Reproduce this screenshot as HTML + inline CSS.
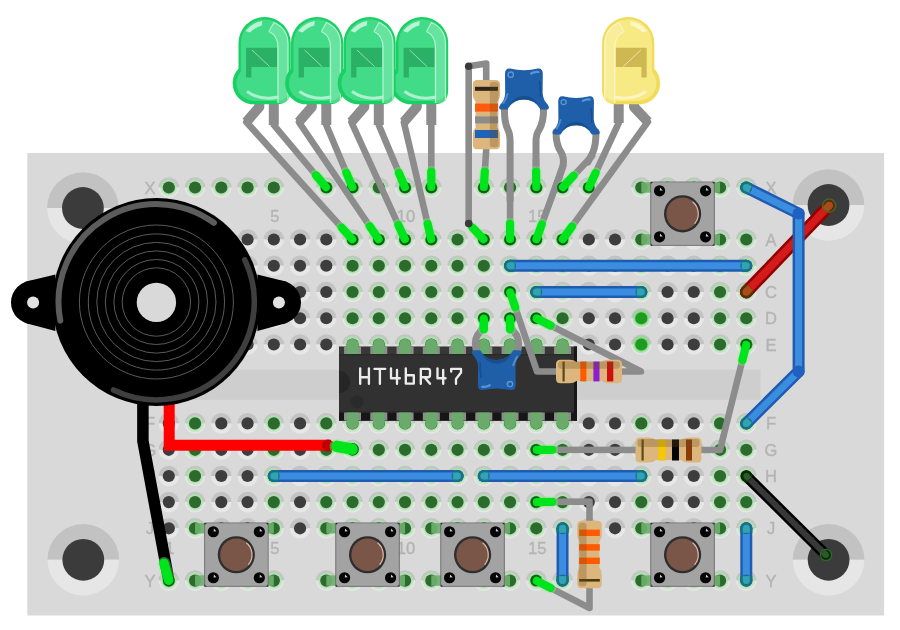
<!DOCTYPE html><html><head><meta charset="utf-8"><style>html,body{margin:0;padding:0;background:#fff;width:900px;height:630px;overflow:hidden}svg{display:block;will-change:transform}</style></head><body>
<svg width="900" height="630" viewBox="0 0 900 630">
<rect width="900" height="630" fill="#ffffff"/>
<rect x="27.3" y="153" width="856.8" height="462.5" fill="#d9d9d9"/>
<rect x="150" y="369.8" width="610.5" height="30" fill="#cecece"/>
<path d="M47.10,208.00A35.8,35.8 0 0 1 118.70,208.00Z" fill="#c2c2c2"/>
<path d="M47.10,208.00A35.8,35.8 0 0 0 118.70,208.00Z" fill="#e6e6e6"/>
<circle cx="82.90" cy="208.00" r="20.9" fill="#3b3b3b"/>
<path d="M792.70,205.00A35.8,35.8 0 0 1 864.30,205.00Z" fill="#c2c2c2"/>
<path d="M792.70,205.00A35.8,35.8 0 0 0 864.30,205.00Z" fill="#e6e6e6"/>
<circle cx="828.50" cy="205.00" r="20.9" fill="#3b3b3b"/>
<path d="M47.50,559.80A35.8,35.8 0 0 1 119.10,559.80Z" fill="#c2c2c2"/>
<path d="M47.50,559.80A35.8,35.8 0 0 0 119.10,559.80Z" fill="#e6e6e6"/>
<circle cx="83.30" cy="559.80" r="20.9" fill="#3b3b3b"/>
<path d="M792.80,559.80A35.8,35.8 0 0 1 864.40,559.80Z" fill="#c2c2c2"/>
<path d="M792.80,559.80A35.8,35.8 0 0 0 864.40,559.80Z" fill="#e6e6e6"/>
<circle cx="828.60" cy="559.80" r="20.9" fill="#3b3b3b"/>
<path d="M158.50,239.50A10.3,10.3 0 0 1 179.10,239.50Z" fill="#c3c3c3"/>
<path d="M158.50,239.50A10.3,10.3 0 0 0 179.10,239.50Z" fill="#e7e7e7"/>
<circle cx="168.80" cy="239.50" r="6.1" fill="#3d3d3d"/>
<path d="M184.75,239.50A10.3,10.3 0 0 1 205.35,239.50Z" fill="#c3c3c3"/>
<path d="M184.75,239.50A10.3,10.3 0 0 0 205.35,239.50Z" fill="#e7e7e7"/>
<circle cx="195.05" cy="239.50" r="6.1" fill="#3d3d3d"/>
<path d="M211.00,239.50A10.3,10.3 0 0 1 231.60,239.50Z" fill="#c3c3c3"/>
<path d="M211.00,239.50A10.3,10.3 0 0 0 231.60,239.50Z" fill="#e7e7e7"/>
<circle cx="221.30" cy="239.50" r="6.1" fill="#3d3d3d"/>
<path d="M237.25,239.50A10.3,10.3 0 0 1 257.85,239.50Z" fill="#c3c3c3"/>
<path d="M237.25,239.50A10.3,10.3 0 0 0 257.85,239.50Z" fill="#e7e7e7"/>
<circle cx="247.55" cy="239.50" r="6.1" fill="#3d3d3d"/>
<path d="M263.50,239.50A10.3,10.3 0 0 1 284.10,239.50Z" fill="#c3c3c3"/>
<path d="M263.50,239.50A10.3,10.3 0 0 0 284.10,239.50Z" fill="#e7e7e7"/>
<circle cx="273.80" cy="239.50" r="6.1" fill="#3d3d3d"/>
<path d="M289.75,239.50A10.3,10.3 0 0 1 310.35,239.50Z" fill="#c3c3c3"/>
<path d="M289.75,239.50A10.3,10.3 0 0 0 310.35,239.50Z" fill="#e7e7e7"/>
<circle cx="300.05" cy="239.50" r="6.1" fill="#3d3d3d"/>
<path d="M316.00,239.50A10.3,10.3 0 0 1 336.60,239.50Z" fill="#c3c3c3"/>
<path d="M316.00,239.50A10.3,10.3 0 0 0 336.60,239.50Z" fill="#e7e7e7"/>
<circle cx="326.30" cy="239.50" r="6.1" fill="#3d3d3d"/>
<path d="M342.25,239.50A10.3,10.3 0 0 1 362.85,239.50Z" fill="#c3c3c3"/>
<path d="M342.25,239.50A10.3,10.3 0 0 0 362.85,239.50Z" fill="#e7e7e7"/>
<circle cx="352.55" cy="239.50" r="8.9" fill="#b0e2b0" opacity="0.45"/>
<circle cx="352.55" cy="239.50" r="7.3" fill="#b0e2b0"/>
<circle cx="352.55" cy="239.50" r="6.1" fill="#2d6a2d"/>
<path d="M368.50,239.50A10.3,10.3 0 0 1 389.10,239.50Z" fill="#c3c3c3"/>
<path d="M368.50,239.50A10.3,10.3 0 0 0 389.10,239.50Z" fill="#e7e7e7"/>
<circle cx="378.80" cy="239.50" r="8.9" fill="#b0e2b0" opacity="0.45"/>
<circle cx="378.80" cy="239.50" r="7.3" fill="#b0e2b0"/>
<circle cx="378.80" cy="239.50" r="6.1" fill="#2d6a2d"/>
<path d="M394.75,239.50A10.3,10.3 0 0 1 415.35,239.50Z" fill="#c3c3c3"/>
<path d="M394.75,239.50A10.3,10.3 0 0 0 415.35,239.50Z" fill="#e7e7e7"/>
<circle cx="405.05" cy="239.50" r="8.9" fill="#b0e2b0" opacity="0.45"/>
<circle cx="405.05" cy="239.50" r="7.3" fill="#b0e2b0"/>
<circle cx="405.05" cy="239.50" r="6.1" fill="#2d6a2d"/>
<path d="M421.00,239.50A10.3,10.3 0 0 1 441.60,239.50Z" fill="#c3c3c3"/>
<path d="M421.00,239.50A10.3,10.3 0 0 0 441.60,239.50Z" fill="#e7e7e7"/>
<circle cx="431.30" cy="239.50" r="8.9" fill="#b0e2b0" opacity="0.45"/>
<circle cx="431.30" cy="239.50" r="7.3" fill="#b0e2b0"/>
<circle cx="431.30" cy="239.50" r="6.1" fill="#2d6a2d"/>
<path d="M447.25,239.50A10.3,10.3 0 0 1 467.85,239.50Z" fill="#c3c3c3"/>
<path d="M447.25,239.50A10.3,10.3 0 0 0 467.85,239.50Z" fill="#e7e7e7"/>
<circle cx="457.55" cy="239.50" r="8.9" fill="#b0e2b0" opacity="0.45"/>
<circle cx="457.55" cy="239.50" r="7.3" fill="#b0e2b0"/>
<circle cx="457.55" cy="239.50" r="6.1" fill="#2d6a2d"/>
<path d="M473.50,239.50A10.3,10.3 0 0 1 494.10,239.50Z" fill="#c3c3c3"/>
<path d="M473.50,239.50A10.3,10.3 0 0 0 494.10,239.50Z" fill="#e7e7e7"/>
<circle cx="483.80" cy="239.50" r="8.9" fill="#b0e2b0" opacity="0.45"/>
<circle cx="483.80" cy="239.50" r="7.3" fill="#b0e2b0"/>
<circle cx="483.80" cy="239.50" r="6.1" fill="#2d6a2d"/>
<path d="M499.75,239.50A10.3,10.3 0 0 1 520.35,239.50Z" fill="#c3c3c3"/>
<path d="M499.75,239.50A10.3,10.3 0 0 0 520.35,239.50Z" fill="#e7e7e7"/>
<circle cx="510.05" cy="239.50" r="8.9" fill="#b0e2b0" opacity="0.45"/>
<circle cx="510.05" cy="239.50" r="7.3" fill="#b0e2b0"/>
<circle cx="510.05" cy="239.50" r="6.1" fill="#2d6a2d"/>
<path d="M526.00,239.50A10.3,10.3 0 0 1 546.60,239.50Z" fill="#c3c3c3"/>
<path d="M526.00,239.50A10.3,10.3 0 0 0 546.60,239.50Z" fill="#e7e7e7"/>
<circle cx="536.30" cy="239.50" r="8.9" fill="#b0e2b0" opacity="0.45"/>
<circle cx="536.30" cy="239.50" r="7.3" fill="#b0e2b0"/>
<circle cx="536.30" cy="239.50" r="6.1" fill="#2d6a2d"/>
<path d="M552.25,239.50A10.3,10.3 0 0 1 572.85,239.50Z" fill="#c3c3c3"/>
<path d="M552.25,239.50A10.3,10.3 0 0 0 572.85,239.50Z" fill="#e7e7e7"/>
<circle cx="562.55" cy="239.50" r="8.9" fill="#b0e2b0" opacity="0.45"/>
<circle cx="562.55" cy="239.50" r="7.3" fill="#b0e2b0"/>
<circle cx="562.55" cy="239.50" r="6.1" fill="#2d6a2d"/>
<path d="M578.50,239.50A10.3,10.3 0 0 1 599.10,239.50Z" fill="#c3c3c3"/>
<path d="M578.50,239.50A10.3,10.3 0 0 0 599.10,239.50Z" fill="#e7e7e7"/>
<circle cx="588.80" cy="239.50" r="6.1" fill="#3d3d3d"/>
<path d="M604.75,239.50A10.3,10.3 0 0 1 625.35,239.50Z" fill="#c3c3c3"/>
<path d="M604.75,239.50A10.3,10.3 0 0 0 625.35,239.50Z" fill="#e7e7e7"/>
<circle cx="615.05" cy="239.50" r="6.1" fill="#3d3d3d"/>
<path d="M631.00,239.50A10.3,10.3 0 0 1 651.60,239.50Z" fill="#c3c3c3"/>
<path d="M631.00,239.50A10.3,10.3 0 0 0 651.60,239.50Z" fill="#e7e7e7"/>
<circle cx="641.30" cy="239.50" r="8.9" fill="#b0e2b0" opacity="0.45"/>
<circle cx="641.30" cy="239.50" r="7.3" fill="#b0e2b0"/>
<circle cx="641.30" cy="239.50" r="6.1" fill="#2d6a2d"/>
<path d="M657.25,239.50A10.3,10.3 0 0 1 677.85,239.50Z" fill="#c3c3c3"/>
<path d="M657.25,239.50A10.3,10.3 0 0 0 677.85,239.50Z" fill="#e7e7e7"/>
<circle cx="667.55" cy="239.50" r="6.1" fill="#3d3d3d"/>
<path d="M683.50,239.50A10.3,10.3 0 0 1 704.10,239.50Z" fill="#c3c3c3"/>
<path d="M683.50,239.50A10.3,10.3 0 0 0 704.10,239.50Z" fill="#e7e7e7"/>
<circle cx="693.80" cy="239.50" r="6.1" fill="#3d3d3d"/>
<path d="M709.75,239.50A10.3,10.3 0 0 1 730.35,239.50Z" fill="#c3c3c3"/>
<path d="M709.75,239.50A10.3,10.3 0 0 0 730.35,239.50Z" fill="#e7e7e7"/>
<circle cx="720.05" cy="239.50" r="8.9" fill="#b0e2b0" opacity="0.45"/>
<circle cx="720.05" cy="239.50" r="7.3" fill="#b0e2b0"/>
<circle cx="720.05" cy="239.50" r="6.1" fill="#2d6a2d"/>
<path d="M736.00,239.50A10.3,10.3 0 0 1 756.60,239.50Z" fill="#c3c3c3"/>
<path d="M736.00,239.50A10.3,10.3 0 0 0 756.60,239.50Z" fill="#e7e7e7"/>
<circle cx="746.30" cy="239.50" r="8.9" fill="#b0e2b0" opacity="0.45"/>
<circle cx="746.30" cy="239.50" r="7.3" fill="#b0e2b0"/>
<circle cx="746.30" cy="239.50" r="6.1" fill="#2d6a2d"/>
<path d="M158.50,265.75A10.3,10.3 0 0 1 179.10,265.75Z" fill="#c3c3c3"/>
<path d="M158.50,265.75A10.3,10.3 0 0 0 179.10,265.75Z" fill="#e7e7e7"/>
<circle cx="168.80" cy="265.75" r="6.1" fill="#3d3d3d"/>
<path d="M184.75,265.75A10.3,10.3 0 0 1 205.35,265.75Z" fill="#c3c3c3"/>
<path d="M184.75,265.75A10.3,10.3 0 0 0 205.35,265.75Z" fill="#e7e7e7"/>
<circle cx="195.05" cy="265.75" r="6.1" fill="#3d3d3d"/>
<path d="M211.00,265.75A10.3,10.3 0 0 1 231.60,265.75Z" fill="#c3c3c3"/>
<path d="M211.00,265.75A10.3,10.3 0 0 0 231.60,265.75Z" fill="#e7e7e7"/>
<circle cx="221.30" cy="265.75" r="6.1" fill="#3d3d3d"/>
<path d="M237.25,265.75A10.3,10.3 0 0 1 257.85,265.75Z" fill="#c3c3c3"/>
<path d="M237.25,265.75A10.3,10.3 0 0 0 257.85,265.75Z" fill="#e7e7e7"/>
<circle cx="247.55" cy="265.75" r="6.1" fill="#3d3d3d"/>
<path d="M263.50,265.75A10.3,10.3 0 0 1 284.10,265.75Z" fill="#c3c3c3"/>
<path d="M263.50,265.75A10.3,10.3 0 0 0 284.10,265.75Z" fill="#e7e7e7"/>
<circle cx="273.80" cy="265.75" r="6.1" fill="#3d3d3d"/>
<path d="M289.75,265.75A10.3,10.3 0 0 1 310.35,265.75Z" fill="#c3c3c3"/>
<path d="M289.75,265.75A10.3,10.3 0 0 0 310.35,265.75Z" fill="#e7e7e7"/>
<circle cx="300.05" cy="265.75" r="6.1" fill="#3d3d3d"/>
<path d="M316.00,265.75A10.3,10.3 0 0 1 336.60,265.75Z" fill="#c3c3c3"/>
<path d="M316.00,265.75A10.3,10.3 0 0 0 336.60,265.75Z" fill="#e7e7e7"/>
<circle cx="326.30" cy="265.75" r="6.1" fill="#3d3d3d"/>
<path d="M342.25,265.75A10.3,10.3 0 0 1 362.85,265.75Z" fill="#c3c3c3"/>
<path d="M342.25,265.75A10.3,10.3 0 0 0 362.85,265.75Z" fill="#e7e7e7"/>
<circle cx="352.55" cy="265.75" r="8.9" fill="#b0e2b0" opacity="0.45"/>
<circle cx="352.55" cy="265.75" r="7.3" fill="#b0e2b0"/>
<circle cx="352.55" cy="265.75" r="6.1" fill="#2d6a2d"/>
<path d="M368.50,265.75A10.3,10.3 0 0 1 389.10,265.75Z" fill="#c3c3c3"/>
<path d="M368.50,265.75A10.3,10.3 0 0 0 389.10,265.75Z" fill="#e7e7e7"/>
<circle cx="378.80" cy="265.75" r="8.9" fill="#b0e2b0" opacity="0.45"/>
<circle cx="378.80" cy="265.75" r="7.3" fill="#b0e2b0"/>
<circle cx="378.80" cy="265.75" r="6.1" fill="#2d6a2d"/>
<path d="M394.75,265.75A10.3,10.3 0 0 1 415.35,265.75Z" fill="#c3c3c3"/>
<path d="M394.75,265.75A10.3,10.3 0 0 0 415.35,265.75Z" fill="#e7e7e7"/>
<circle cx="405.05" cy="265.75" r="8.9" fill="#b0e2b0" opacity="0.45"/>
<circle cx="405.05" cy="265.75" r="7.3" fill="#b0e2b0"/>
<circle cx="405.05" cy="265.75" r="6.1" fill="#2d6a2d"/>
<path d="M421.00,265.75A10.3,10.3 0 0 1 441.60,265.75Z" fill="#c3c3c3"/>
<path d="M421.00,265.75A10.3,10.3 0 0 0 441.60,265.75Z" fill="#e7e7e7"/>
<circle cx="431.30" cy="265.75" r="8.9" fill="#b0e2b0" opacity="0.45"/>
<circle cx="431.30" cy="265.75" r="7.3" fill="#b0e2b0"/>
<circle cx="431.30" cy="265.75" r="6.1" fill="#2d6a2d"/>
<path d="M447.25,265.75A10.3,10.3 0 0 1 467.85,265.75Z" fill="#c3c3c3"/>
<path d="M447.25,265.75A10.3,10.3 0 0 0 467.85,265.75Z" fill="#e7e7e7"/>
<circle cx="457.55" cy="265.75" r="8.9" fill="#b0e2b0" opacity="0.45"/>
<circle cx="457.55" cy="265.75" r="7.3" fill="#b0e2b0"/>
<circle cx="457.55" cy="265.75" r="6.1" fill="#2d6a2d"/>
<path d="M473.50,265.75A10.3,10.3 0 0 1 494.10,265.75Z" fill="#c3c3c3"/>
<path d="M473.50,265.75A10.3,10.3 0 0 0 494.10,265.75Z" fill="#e7e7e7"/>
<circle cx="483.80" cy="265.75" r="8.9" fill="#b0e2b0" opacity="0.45"/>
<circle cx="483.80" cy="265.75" r="7.3" fill="#b0e2b0"/>
<circle cx="483.80" cy="265.75" r="6.1" fill="#2d6a2d"/>
<path d="M499.75,265.75A10.3,10.3 0 0 1 520.35,265.75Z" fill="#c3c3c3"/>
<path d="M499.75,265.75A10.3,10.3 0 0 0 520.35,265.75Z" fill="#e7e7e7"/>
<circle cx="510.05" cy="265.75" r="8.9" fill="#b0e2b0" opacity="0.45"/>
<circle cx="510.05" cy="265.75" r="7.3" fill="#b0e2b0"/>
<circle cx="510.05" cy="265.75" r="6.1" fill="#2d6a2d"/>
<path d="M526.00,265.75A10.3,10.3 0 0 1 546.60,265.75Z" fill="#c3c3c3"/>
<path d="M526.00,265.75A10.3,10.3 0 0 0 546.60,265.75Z" fill="#e7e7e7"/>
<circle cx="536.30" cy="265.75" r="8.9" fill="#b0e2b0" opacity="0.45"/>
<circle cx="536.30" cy="265.75" r="7.3" fill="#b0e2b0"/>
<circle cx="536.30" cy="265.75" r="6.1" fill="#2d6a2d"/>
<path d="M552.25,265.75A10.3,10.3 0 0 1 572.85,265.75Z" fill="#c3c3c3"/>
<path d="M552.25,265.75A10.3,10.3 0 0 0 572.85,265.75Z" fill="#e7e7e7"/>
<circle cx="562.55" cy="265.75" r="8.9" fill="#b0e2b0" opacity="0.45"/>
<circle cx="562.55" cy="265.75" r="7.3" fill="#b0e2b0"/>
<circle cx="562.55" cy="265.75" r="6.1" fill="#2d6a2d"/>
<path d="M578.50,265.75A10.3,10.3 0 0 1 599.10,265.75Z" fill="#c3c3c3"/>
<path d="M578.50,265.75A10.3,10.3 0 0 0 599.10,265.75Z" fill="#e7e7e7"/>
<circle cx="588.80" cy="265.75" r="6.1" fill="#3d3d3d"/>
<path d="M604.75,265.75A10.3,10.3 0 0 1 625.35,265.75Z" fill="#c3c3c3"/>
<path d="M604.75,265.75A10.3,10.3 0 0 0 625.35,265.75Z" fill="#e7e7e7"/>
<circle cx="615.05" cy="265.75" r="6.1" fill="#3d3d3d"/>
<path d="M631.00,265.75A10.3,10.3 0 0 1 651.60,265.75Z" fill="#c3c3c3"/>
<path d="M631.00,265.75A10.3,10.3 0 0 0 651.60,265.75Z" fill="#e7e7e7"/>
<circle cx="641.30" cy="265.75" r="8.9" fill="#b0e2b0" opacity="0.45"/>
<circle cx="641.30" cy="265.75" r="7.3" fill="#b0e2b0"/>
<circle cx="641.30" cy="265.75" r="6.1" fill="#2d6a2d"/>
<path d="M657.25,265.75A10.3,10.3 0 0 1 677.85,265.75Z" fill="#c3c3c3"/>
<path d="M657.25,265.75A10.3,10.3 0 0 0 677.85,265.75Z" fill="#e7e7e7"/>
<circle cx="667.55" cy="265.75" r="6.1" fill="#3d3d3d"/>
<path d="M683.50,265.75A10.3,10.3 0 0 1 704.10,265.75Z" fill="#c3c3c3"/>
<path d="M683.50,265.75A10.3,10.3 0 0 0 704.10,265.75Z" fill="#e7e7e7"/>
<circle cx="693.80" cy="265.75" r="6.1" fill="#3d3d3d"/>
<path d="M709.75,265.75A10.3,10.3 0 0 1 730.35,265.75Z" fill="#c3c3c3"/>
<path d="M709.75,265.75A10.3,10.3 0 0 0 730.35,265.75Z" fill="#e7e7e7"/>
<circle cx="720.05" cy="265.75" r="8.9" fill="#b0e2b0" opacity="0.45"/>
<circle cx="720.05" cy="265.75" r="7.3" fill="#b0e2b0"/>
<circle cx="720.05" cy="265.75" r="6.1" fill="#2d6a2d"/>
<path d="M736.00,265.75A10.3,10.3 0 0 1 756.60,265.75Z" fill="#c3c3c3"/>
<path d="M736.00,265.75A10.3,10.3 0 0 0 756.60,265.75Z" fill="#e7e7e7"/>
<circle cx="746.30" cy="265.75" r="8.9" fill="#b0e2b0" opacity="0.45"/>
<circle cx="746.30" cy="265.75" r="7.3" fill="#b0e2b0"/>
<circle cx="746.30" cy="265.75" r="6.1" fill="#2d6a2d"/>
<path d="M158.50,292.00A10.3,10.3 0 0 1 179.10,292.00Z" fill="#c3c3c3"/>
<path d="M158.50,292.00A10.3,10.3 0 0 0 179.10,292.00Z" fill="#e7e7e7"/>
<circle cx="168.80" cy="292.00" r="6.1" fill="#3d3d3d"/>
<path d="M184.75,292.00A10.3,10.3 0 0 1 205.35,292.00Z" fill="#c3c3c3"/>
<path d="M184.75,292.00A10.3,10.3 0 0 0 205.35,292.00Z" fill="#e7e7e7"/>
<circle cx="195.05" cy="292.00" r="6.1" fill="#3d3d3d"/>
<path d="M211.00,292.00A10.3,10.3 0 0 1 231.60,292.00Z" fill="#c3c3c3"/>
<path d="M211.00,292.00A10.3,10.3 0 0 0 231.60,292.00Z" fill="#e7e7e7"/>
<circle cx="221.30" cy="292.00" r="6.1" fill="#3d3d3d"/>
<path d="M237.25,292.00A10.3,10.3 0 0 1 257.85,292.00Z" fill="#c3c3c3"/>
<path d="M237.25,292.00A10.3,10.3 0 0 0 257.85,292.00Z" fill="#e7e7e7"/>
<circle cx="247.55" cy="292.00" r="6.1" fill="#3d3d3d"/>
<path d="M263.50,292.00A10.3,10.3 0 0 1 284.10,292.00Z" fill="#c3c3c3"/>
<path d="M263.50,292.00A10.3,10.3 0 0 0 284.10,292.00Z" fill="#e7e7e7"/>
<circle cx="273.80" cy="292.00" r="6.1" fill="#3d3d3d"/>
<path d="M289.75,292.00A10.3,10.3 0 0 1 310.35,292.00Z" fill="#c3c3c3"/>
<path d="M289.75,292.00A10.3,10.3 0 0 0 310.35,292.00Z" fill="#e7e7e7"/>
<circle cx="300.05" cy="292.00" r="6.1" fill="#3d3d3d"/>
<path d="M316.00,292.00A10.3,10.3 0 0 1 336.60,292.00Z" fill="#c3c3c3"/>
<path d="M316.00,292.00A10.3,10.3 0 0 0 336.60,292.00Z" fill="#e7e7e7"/>
<circle cx="326.30" cy="292.00" r="6.1" fill="#3d3d3d"/>
<path d="M342.25,292.00A10.3,10.3 0 0 1 362.85,292.00Z" fill="#c3c3c3"/>
<path d="M342.25,292.00A10.3,10.3 0 0 0 362.85,292.00Z" fill="#e7e7e7"/>
<circle cx="352.55" cy="292.00" r="8.9" fill="#b0e2b0" opacity="0.45"/>
<circle cx="352.55" cy="292.00" r="7.3" fill="#b0e2b0"/>
<circle cx="352.55" cy="292.00" r="6.1" fill="#2d6a2d"/>
<path d="M368.50,292.00A10.3,10.3 0 0 1 389.10,292.00Z" fill="#c3c3c3"/>
<path d="M368.50,292.00A10.3,10.3 0 0 0 389.10,292.00Z" fill="#e7e7e7"/>
<circle cx="378.80" cy="292.00" r="8.9" fill="#b0e2b0" opacity="0.45"/>
<circle cx="378.80" cy="292.00" r="7.3" fill="#b0e2b0"/>
<circle cx="378.80" cy="292.00" r="6.1" fill="#2d6a2d"/>
<path d="M394.75,292.00A10.3,10.3 0 0 1 415.35,292.00Z" fill="#c3c3c3"/>
<path d="M394.75,292.00A10.3,10.3 0 0 0 415.35,292.00Z" fill="#e7e7e7"/>
<circle cx="405.05" cy="292.00" r="8.9" fill="#b0e2b0" opacity="0.45"/>
<circle cx="405.05" cy="292.00" r="7.3" fill="#b0e2b0"/>
<circle cx="405.05" cy="292.00" r="6.1" fill="#2d6a2d"/>
<path d="M421.00,292.00A10.3,10.3 0 0 1 441.60,292.00Z" fill="#c3c3c3"/>
<path d="M421.00,292.00A10.3,10.3 0 0 0 441.60,292.00Z" fill="#e7e7e7"/>
<circle cx="431.30" cy="292.00" r="8.9" fill="#b0e2b0" opacity="0.45"/>
<circle cx="431.30" cy="292.00" r="7.3" fill="#b0e2b0"/>
<circle cx="431.30" cy="292.00" r="6.1" fill="#2d6a2d"/>
<path d="M447.25,292.00A10.3,10.3 0 0 1 467.85,292.00Z" fill="#c3c3c3"/>
<path d="M447.25,292.00A10.3,10.3 0 0 0 467.85,292.00Z" fill="#e7e7e7"/>
<circle cx="457.55" cy="292.00" r="8.9" fill="#b0e2b0" opacity="0.45"/>
<circle cx="457.55" cy="292.00" r="7.3" fill="#b0e2b0"/>
<circle cx="457.55" cy="292.00" r="6.1" fill="#2d6a2d"/>
<path d="M473.50,292.00A10.3,10.3 0 0 1 494.10,292.00Z" fill="#c3c3c3"/>
<path d="M473.50,292.00A10.3,10.3 0 0 0 494.10,292.00Z" fill="#e7e7e7"/>
<circle cx="483.80" cy="292.00" r="8.9" fill="#b0e2b0" opacity="0.45"/>
<circle cx="483.80" cy="292.00" r="7.3" fill="#b0e2b0"/>
<circle cx="483.80" cy="292.00" r="6.1" fill="#2d6a2d"/>
<path d="M499.75,292.00A10.3,10.3 0 0 1 520.35,292.00Z" fill="#c3c3c3"/>
<path d="M499.75,292.00A10.3,10.3 0 0 0 520.35,292.00Z" fill="#e7e7e7"/>
<circle cx="510.05" cy="292.00" r="8.9" fill="#b0e2b0" opacity="0.45"/>
<circle cx="510.05" cy="292.00" r="7.3" fill="#b0e2b0"/>
<circle cx="510.05" cy="292.00" r="6.1" fill="#2d6a2d"/>
<path d="M526.00,292.00A10.3,10.3 0 0 1 546.60,292.00Z" fill="#c3c3c3"/>
<path d="M526.00,292.00A10.3,10.3 0 0 0 546.60,292.00Z" fill="#e7e7e7"/>
<circle cx="536.30" cy="292.00" r="8.9" fill="#b0e2b0" opacity="0.45"/>
<circle cx="536.30" cy="292.00" r="7.3" fill="#b0e2b0"/>
<circle cx="536.30" cy="292.00" r="6.1" fill="#2d6a2d"/>
<path d="M552.25,292.00A10.3,10.3 0 0 1 572.85,292.00Z" fill="#c3c3c3"/>
<path d="M552.25,292.00A10.3,10.3 0 0 0 572.85,292.00Z" fill="#e7e7e7"/>
<circle cx="562.55" cy="292.00" r="8.9" fill="#b0e2b0" opacity="0.45"/>
<circle cx="562.55" cy="292.00" r="7.3" fill="#b0e2b0"/>
<circle cx="562.55" cy="292.00" r="6.1" fill="#2d6a2d"/>
<path d="M578.50,292.00A10.3,10.3 0 0 1 599.10,292.00Z" fill="#c3c3c3"/>
<path d="M578.50,292.00A10.3,10.3 0 0 0 599.10,292.00Z" fill="#e7e7e7"/>
<circle cx="588.80" cy="292.00" r="6.1" fill="#3d3d3d"/>
<path d="M604.75,292.00A10.3,10.3 0 0 1 625.35,292.00Z" fill="#c3c3c3"/>
<path d="M604.75,292.00A10.3,10.3 0 0 0 625.35,292.00Z" fill="#e7e7e7"/>
<circle cx="615.05" cy="292.00" r="6.1" fill="#3d3d3d"/>
<path d="M631.00,292.00A10.3,10.3 0 0 1 651.60,292.00Z" fill="#c3c3c3"/>
<path d="M631.00,292.00A10.3,10.3 0 0 0 651.60,292.00Z" fill="#e7e7e7"/>
<circle cx="641.30" cy="292.00" r="8.9" fill="#b0e2b0" opacity="0.45"/>
<circle cx="641.30" cy="292.00" r="7.3" fill="#b0e2b0"/>
<circle cx="641.30" cy="292.00" r="6.1" fill="#2d6a2d"/>
<path d="M657.25,292.00A10.3,10.3 0 0 1 677.85,292.00Z" fill="#c3c3c3"/>
<path d="M657.25,292.00A10.3,10.3 0 0 0 677.85,292.00Z" fill="#e7e7e7"/>
<circle cx="667.55" cy="292.00" r="6.1" fill="#3d3d3d"/>
<path d="M683.50,292.00A10.3,10.3 0 0 1 704.10,292.00Z" fill="#c3c3c3"/>
<path d="M683.50,292.00A10.3,10.3 0 0 0 704.10,292.00Z" fill="#e7e7e7"/>
<circle cx="693.80" cy="292.00" r="6.1" fill="#3d3d3d"/>
<path d="M709.75,292.00A10.3,10.3 0 0 1 730.35,292.00Z" fill="#c3c3c3"/>
<path d="M709.75,292.00A10.3,10.3 0 0 0 730.35,292.00Z" fill="#e7e7e7"/>
<circle cx="720.05" cy="292.00" r="8.9" fill="#b0e2b0" opacity="0.45"/>
<circle cx="720.05" cy="292.00" r="7.3" fill="#b0e2b0"/>
<circle cx="720.05" cy="292.00" r="6.1" fill="#2d6a2d"/>
<path d="M736.00,292.00A10.3,10.3 0 0 1 756.60,292.00Z" fill="#c3c3c3"/>
<path d="M736.00,292.00A10.3,10.3 0 0 0 756.60,292.00Z" fill="#e7e7e7"/>
<circle cx="746.30" cy="292.00" r="8.9" fill="#b0e2b0" opacity="0.45"/>
<circle cx="746.30" cy="292.00" r="7.3" fill="#b0e2b0"/>
<circle cx="746.30" cy="292.00" r="6.1" fill="#2d6a2d"/>
<path d="M158.50,318.25A10.3,10.3 0 0 1 179.10,318.25Z" fill="#c3c3c3"/>
<path d="M158.50,318.25A10.3,10.3 0 0 0 179.10,318.25Z" fill="#e7e7e7"/>
<circle cx="168.80" cy="318.25" r="6.1" fill="#3d3d3d"/>
<path d="M184.75,318.25A10.3,10.3 0 0 1 205.35,318.25Z" fill="#c3c3c3"/>
<path d="M184.75,318.25A10.3,10.3 0 0 0 205.35,318.25Z" fill="#e7e7e7"/>
<circle cx="195.05" cy="318.25" r="6.1" fill="#3d3d3d"/>
<path d="M211.00,318.25A10.3,10.3 0 0 1 231.60,318.25Z" fill="#c3c3c3"/>
<path d="M211.00,318.25A10.3,10.3 0 0 0 231.60,318.25Z" fill="#e7e7e7"/>
<circle cx="221.30" cy="318.25" r="6.1" fill="#3d3d3d"/>
<path d="M237.25,318.25A10.3,10.3 0 0 1 257.85,318.25Z" fill="#c3c3c3"/>
<path d="M237.25,318.25A10.3,10.3 0 0 0 257.85,318.25Z" fill="#e7e7e7"/>
<circle cx="247.55" cy="318.25" r="6.1" fill="#3d3d3d"/>
<path d="M263.50,318.25A10.3,10.3 0 0 1 284.10,318.25Z" fill="#c3c3c3"/>
<path d="M263.50,318.25A10.3,10.3 0 0 0 284.10,318.25Z" fill="#e7e7e7"/>
<circle cx="273.80" cy="318.25" r="6.1" fill="#3d3d3d"/>
<path d="M289.75,318.25A10.3,10.3 0 0 1 310.35,318.25Z" fill="#c3c3c3"/>
<path d="M289.75,318.25A10.3,10.3 0 0 0 310.35,318.25Z" fill="#e7e7e7"/>
<circle cx="300.05" cy="318.25" r="6.1" fill="#3d3d3d"/>
<path d="M316.00,318.25A10.3,10.3 0 0 1 336.60,318.25Z" fill="#c3c3c3"/>
<path d="M316.00,318.25A10.3,10.3 0 0 0 336.60,318.25Z" fill="#e7e7e7"/>
<circle cx="326.30" cy="318.25" r="6.1" fill="#3d3d3d"/>
<path d="M342.25,318.25A10.3,10.3 0 0 1 362.85,318.25Z" fill="#c3c3c3"/>
<path d="M342.25,318.25A10.3,10.3 0 0 0 362.85,318.25Z" fill="#e7e7e7"/>
<circle cx="352.55" cy="318.25" r="8.9" fill="#b0e2b0" opacity="0.45"/>
<circle cx="352.55" cy="318.25" r="7.3" fill="#b0e2b0"/>
<circle cx="352.55" cy="318.25" r="6.1" fill="#2d6a2d"/>
<path d="M368.50,318.25A10.3,10.3 0 0 1 389.10,318.25Z" fill="#c3c3c3"/>
<path d="M368.50,318.25A10.3,10.3 0 0 0 389.10,318.25Z" fill="#e7e7e7"/>
<circle cx="378.80" cy="318.25" r="8.9" fill="#b0e2b0" opacity="0.45"/>
<circle cx="378.80" cy="318.25" r="7.3" fill="#b0e2b0"/>
<circle cx="378.80" cy="318.25" r="6.1" fill="#2d6a2d"/>
<path d="M394.75,318.25A10.3,10.3 0 0 1 415.35,318.25Z" fill="#c3c3c3"/>
<path d="M394.75,318.25A10.3,10.3 0 0 0 415.35,318.25Z" fill="#e7e7e7"/>
<circle cx="405.05" cy="318.25" r="8.9" fill="#b0e2b0" opacity="0.45"/>
<circle cx="405.05" cy="318.25" r="7.3" fill="#b0e2b0"/>
<circle cx="405.05" cy="318.25" r="6.1" fill="#2d6a2d"/>
<path d="M421.00,318.25A10.3,10.3 0 0 1 441.60,318.25Z" fill="#c3c3c3"/>
<path d="M421.00,318.25A10.3,10.3 0 0 0 441.60,318.25Z" fill="#e7e7e7"/>
<circle cx="431.30" cy="318.25" r="8.9" fill="#b0e2b0" opacity="0.45"/>
<circle cx="431.30" cy="318.25" r="7.3" fill="#b0e2b0"/>
<circle cx="431.30" cy="318.25" r="6.1" fill="#2d6a2d"/>
<path d="M447.25,318.25A10.3,10.3 0 0 1 467.85,318.25Z" fill="#c3c3c3"/>
<path d="M447.25,318.25A10.3,10.3 0 0 0 467.85,318.25Z" fill="#e7e7e7"/>
<circle cx="457.55" cy="318.25" r="8.9" fill="#b0e2b0" opacity="0.45"/>
<circle cx="457.55" cy="318.25" r="7.3" fill="#b0e2b0"/>
<circle cx="457.55" cy="318.25" r="6.1" fill="#2d6a2d"/>
<path d="M473.50,318.25A10.3,10.3 0 0 1 494.10,318.25Z" fill="#c3c3c3"/>
<path d="M473.50,318.25A10.3,10.3 0 0 0 494.10,318.25Z" fill="#e7e7e7"/>
<circle cx="483.80" cy="318.25" r="8.9" fill="#b0e2b0" opacity="0.45"/>
<circle cx="483.80" cy="318.25" r="7.3" fill="#b0e2b0"/>
<circle cx="483.80" cy="318.25" r="6.1" fill="#2d6a2d"/>
<path d="M499.75,318.25A10.3,10.3 0 0 1 520.35,318.25Z" fill="#c3c3c3"/>
<path d="M499.75,318.25A10.3,10.3 0 0 0 520.35,318.25Z" fill="#e7e7e7"/>
<circle cx="510.05" cy="318.25" r="8.9" fill="#b0e2b0" opacity="0.45"/>
<circle cx="510.05" cy="318.25" r="7.3" fill="#b0e2b0"/>
<circle cx="510.05" cy="318.25" r="6.1" fill="#2d6a2d"/>
<path d="M526.00,318.25A10.3,10.3 0 0 1 546.60,318.25Z" fill="#c3c3c3"/>
<path d="M526.00,318.25A10.3,10.3 0 0 0 546.60,318.25Z" fill="#e7e7e7"/>
<circle cx="536.30" cy="318.25" r="8.9" fill="#b0e2b0" opacity="0.45"/>
<circle cx="536.30" cy="318.25" r="7.3" fill="#b0e2b0"/>
<circle cx="536.30" cy="318.25" r="6.1" fill="#2d6a2d"/>
<path d="M552.25,318.25A10.3,10.3 0 0 1 572.85,318.25Z" fill="#c3c3c3"/>
<path d="M552.25,318.25A10.3,10.3 0 0 0 572.85,318.25Z" fill="#e7e7e7"/>
<circle cx="562.55" cy="318.25" r="8.9" fill="#b0e2b0" opacity="0.45"/>
<circle cx="562.55" cy="318.25" r="7.3" fill="#b0e2b0"/>
<circle cx="562.55" cy="318.25" r="6.1" fill="#2d6a2d"/>
<path d="M578.50,318.25A10.3,10.3 0 0 1 599.10,318.25Z" fill="#c3c3c3"/>
<path d="M578.50,318.25A10.3,10.3 0 0 0 599.10,318.25Z" fill="#e7e7e7"/>
<circle cx="588.80" cy="318.25" r="6.1" fill="#3d3d3d"/>
<path d="M604.75,318.25A10.3,10.3 0 0 1 625.35,318.25Z" fill="#c3c3c3"/>
<path d="M604.75,318.25A10.3,10.3 0 0 0 625.35,318.25Z" fill="#e7e7e7"/>
<circle cx="615.05" cy="318.25" r="6.1" fill="#3d3d3d"/>
<path d="M631.00,318.25A10.3,10.3 0 0 1 651.60,318.25Z" fill="#c3c3c3"/>
<path d="M631.00,318.25A10.3,10.3 0 0 0 651.60,318.25Z" fill="#e7e7e7"/>
<circle cx="641.30" cy="318.25" r="8.9" fill="#80de80" opacity="0.45"/>
<circle cx="641.30" cy="318.25" r="7.3" fill="#80de80"/>
<circle cx="641.30" cy="318.25" r="6.1" fill="#1f9c1f"/>
<path d="M657.25,318.25A10.3,10.3 0 0 1 677.85,318.25Z" fill="#c3c3c3"/>
<path d="M657.25,318.25A10.3,10.3 0 0 0 677.85,318.25Z" fill="#e7e7e7"/>
<circle cx="667.55" cy="318.25" r="6.1" fill="#3d3d3d"/>
<path d="M683.50,318.25A10.3,10.3 0 0 1 704.10,318.25Z" fill="#c3c3c3"/>
<path d="M683.50,318.25A10.3,10.3 0 0 0 704.10,318.25Z" fill="#e7e7e7"/>
<circle cx="693.80" cy="318.25" r="6.1" fill="#3d3d3d"/>
<path d="M709.75,318.25A10.3,10.3 0 0 1 730.35,318.25Z" fill="#c3c3c3"/>
<path d="M709.75,318.25A10.3,10.3 0 0 0 730.35,318.25Z" fill="#e7e7e7"/>
<circle cx="720.05" cy="318.25" r="8.9" fill="#b0e2b0" opacity="0.45"/>
<circle cx="720.05" cy="318.25" r="7.3" fill="#b0e2b0"/>
<circle cx="720.05" cy="318.25" r="6.1" fill="#2d6a2d"/>
<path d="M736.00,318.25A10.3,10.3 0 0 1 756.60,318.25Z" fill="#c3c3c3"/>
<path d="M736.00,318.25A10.3,10.3 0 0 0 756.60,318.25Z" fill="#e7e7e7"/>
<circle cx="746.30" cy="318.25" r="8.9" fill="#b0e2b0" opacity="0.45"/>
<circle cx="746.30" cy="318.25" r="7.3" fill="#b0e2b0"/>
<circle cx="746.30" cy="318.25" r="6.1" fill="#2d6a2d"/>
<path d="M158.50,344.50A10.3,10.3 0 0 1 179.10,344.50Z" fill="#c3c3c3"/>
<path d="M158.50,344.50A10.3,10.3 0 0 0 179.10,344.50Z" fill="#e7e7e7"/>
<circle cx="168.80" cy="344.50" r="6.1" fill="#3d3d3d"/>
<path d="M184.75,344.50A10.3,10.3 0 0 1 205.35,344.50Z" fill="#c3c3c3"/>
<path d="M184.75,344.50A10.3,10.3 0 0 0 205.35,344.50Z" fill="#e7e7e7"/>
<circle cx="195.05" cy="344.50" r="6.1" fill="#3d3d3d"/>
<path d="M211.00,344.50A10.3,10.3 0 0 1 231.60,344.50Z" fill="#c3c3c3"/>
<path d="M211.00,344.50A10.3,10.3 0 0 0 231.60,344.50Z" fill="#e7e7e7"/>
<circle cx="221.30" cy="344.50" r="6.1" fill="#3d3d3d"/>
<path d="M237.25,344.50A10.3,10.3 0 0 1 257.85,344.50Z" fill="#c3c3c3"/>
<path d="M237.25,344.50A10.3,10.3 0 0 0 257.85,344.50Z" fill="#e7e7e7"/>
<circle cx="247.55" cy="344.50" r="6.1" fill="#3d3d3d"/>
<path d="M263.50,344.50A10.3,10.3 0 0 1 284.10,344.50Z" fill="#c3c3c3"/>
<path d="M263.50,344.50A10.3,10.3 0 0 0 284.10,344.50Z" fill="#e7e7e7"/>
<circle cx="273.80" cy="344.50" r="6.1" fill="#3d3d3d"/>
<path d="M289.75,344.50A10.3,10.3 0 0 1 310.35,344.50Z" fill="#c3c3c3"/>
<path d="M289.75,344.50A10.3,10.3 0 0 0 310.35,344.50Z" fill="#e7e7e7"/>
<circle cx="300.05" cy="344.50" r="6.1" fill="#3d3d3d"/>
<path d="M316.00,344.50A10.3,10.3 0 0 1 336.60,344.50Z" fill="#c3c3c3"/>
<path d="M316.00,344.50A10.3,10.3 0 0 0 336.60,344.50Z" fill="#e7e7e7"/>
<circle cx="326.30" cy="344.50" r="6.1" fill="#3d3d3d"/>
<path d="M342.25,344.50A10.3,10.3 0 0 1 362.85,344.50Z" fill="#c3c3c3"/>
<path d="M342.25,344.50A10.3,10.3 0 0 0 362.85,344.50Z" fill="#e7e7e7"/>
<circle cx="352.55" cy="344.50" r="8.9" fill="#b0e2b0" opacity="0.45"/>
<circle cx="352.55" cy="344.50" r="7.3" fill="#b0e2b0"/>
<circle cx="352.55" cy="344.50" r="6.1" fill="#2d6a2d"/>
<path d="M368.50,344.50A10.3,10.3 0 0 1 389.10,344.50Z" fill="#c3c3c3"/>
<path d="M368.50,344.50A10.3,10.3 0 0 0 389.10,344.50Z" fill="#e7e7e7"/>
<circle cx="378.80" cy="344.50" r="8.9" fill="#b0e2b0" opacity="0.45"/>
<circle cx="378.80" cy="344.50" r="7.3" fill="#b0e2b0"/>
<circle cx="378.80" cy="344.50" r="6.1" fill="#2d6a2d"/>
<path d="M394.75,344.50A10.3,10.3 0 0 1 415.35,344.50Z" fill="#c3c3c3"/>
<path d="M394.75,344.50A10.3,10.3 0 0 0 415.35,344.50Z" fill="#e7e7e7"/>
<circle cx="405.05" cy="344.50" r="8.9" fill="#b0e2b0" opacity="0.45"/>
<circle cx="405.05" cy="344.50" r="7.3" fill="#b0e2b0"/>
<circle cx="405.05" cy="344.50" r="6.1" fill="#2d6a2d"/>
<path d="M421.00,344.50A10.3,10.3 0 0 1 441.60,344.50Z" fill="#c3c3c3"/>
<path d="M421.00,344.50A10.3,10.3 0 0 0 441.60,344.50Z" fill="#e7e7e7"/>
<circle cx="431.30" cy="344.50" r="8.9" fill="#b0e2b0" opacity="0.45"/>
<circle cx="431.30" cy="344.50" r="7.3" fill="#b0e2b0"/>
<circle cx="431.30" cy="344.50" r="6.1" fill="#2d6a2d"/>
<path d="M447.25,344.50A10.3,10.3 0 0 1 467.85,344.50Z" fill="#c3c3c3"/>
<path d="M447.25,344.50A10.3,10.3 0 0 0 467.85,344.50Z" fill="#e7e7e7"/>
<circle cx="457.55" cy="344.50" r="8.9" fill="#b0e2b0" opacity="0.45"/>
<circle cx="457.55" cy="344.50" r="7.3" fill="#b0e2b0"/>
<circle cx="457.55" cy="344.50" r="6.1" fill="#2d6a2d"/>
<path d="M473.50,344.50A10.3,10.3 0 0 1 494.10,344.50Z" fill="#c3c3c3"/>
<path d="M473.50,344.50A10.3,10.3 0 0 0 494.10,344.50Z" fill="#e7e7e7"/>
<circle cx="483.80" cy="344.50" r="8.9" fill="#b0e2b0" opacity="0.45"/>
<circle cx="483.80" cy="344.50" r="7.3" fill="#b0e2b0"/>
<circle cx="483.80" cy="344.50" r="6.1" fill="#2d6a2d"/>
<path d="M499.75,344.50A10.3,10.3 0 0 1 520.35,344.50Z" fill="#c3c3c3"/>
<path d="M499.75,344.50A10.3,10.3 0 0 0 520.35,344.50Z" fill="#e7e7e7"/>
<circle cx="510.05" cy="344.50" r="8.9" fill="#b0e2b0" opacity="0.45"/>
<circle cx="510.05" cy="344.50" r="7.3" fill="#b0e2b0"/>
<circle cx="510.05" cy="344.50" r="6.1" fill="#2d6a2d"/>
<path d="M526.00,344.50A10.3,10.3 0 0 1 546.60,344.50Z" fill="#c3c3c3"/>
<path d="M526.00,344.50A10.3,10.3 0 0 0 546.60,344.50Z" fill="#e7e7e7"/>
<circle cx="536.30" cy="344.50" r="8.9" fill="#b0e2b0" opacity="0.45"/>
<circle cx="536.30" cy="344.50" r="7.3" fill="#b0e2b0"/>
<circle cx="536.30" cy="344.50" r="6.1" fill="#2d6a2d"/>
<path d="M552.25,344.50A10.3,10.3 0 0 1 572.85,344.50Z" fill="#c3c3c3"/>
<path d="M552.25,344.50A10.3,10.3 0 0 0 572.85,344.50Z" fill="#e7e7e7"/>
<circle cx="562.55" cy="344.50" r="8.9" fill="#b0e2b0" opacity="0.45"/>
<circle cx="562.55" cy="344.50" r="7.3" fill="#b0e2b0"/>
<circle cx="562.55" cy="344.50" r="6.1" fill="#2d6a2d"/>
<path d="M578.50,344.50A10.3,10.3 0 0 1 599.10,344.50Z" fill="#c3c3c3"/>
<path d="M578.50,344.50A10.3,10.3 0 0 0 599.10,344.50Z" fill="#e7e7e7"/>
<circle cx="588.80" cy="344.50" r="6.1" fill="#3d3d3d"/>
<path d="M604.75,344.50A10.3,10.3 0 0 1 625.35,344.50Z" fill="#c3c3c3"/>
<path d="M604.75,344.50A10.3,10.3 0 0 0 625.35,344.50Z" fill="#e7e7e7"/>
<circle cx="615.05" cy="344.50" r="6.1" fill="#3d3d3d"/>
<path d="M631.00,344.50A10.3,10.3 0 0 1 651.60,344.50Z" fill="#c3c3c3"/>
<path d="M631.00,344.50A10.3,10.3 0 0 0 651.60,344.50Z" fill="#e7e7e7"/>
<circle cx="641.30" cy="344.50" r="8.9" fill="#80de80" opacity="0.45"/>
<circle cx="641.30" cy="344.50" r="7.3" fill="#80de80"/>
<circle cx="641.30" cy="344.50" r="6.1" fill="#1f9c1f"/>
<path d="M657.25,344.50A10.3,10.3 0 0 1 677.85,344.50Z" fill="#c3c3c3"/>
<path d="M657.25,344.50A10.3,10.3 0 0 0 677.85,344.50Z" fill="#e7e7e7"/>
<circle cx="667.55" cy="344.50" r="6.1" fill="#3d3d3d"/>
<path d="M683.50,344.50A10.3,10.3 0 0 1 704.10,344.50Z" fill="#c3c3c3"/>
<path d="M683.50,344.50A10.3,10.3 0 0 0 704.10,344.50Z" fill="#e7e7e7"/>
<circle cx="693.80" cy="344.50" r="6.1" fill="#3d3d3d"/>
<path d="M709.75,344.50A10.3,10.3 0 0 1 730.35,344.50Z" fill="#c3c3c3"/>
<path d="M709.75,344.50A10.3,10.3 0 0 0 730.35,344.50Z" fill="#e7e7e7"/>
<circle cx="720.05" cy="344.50" r="8.9" fill="#b0e2b0" opacity="0.45"/>
<circle cx="720.05" cy="344.50" r="7.3" fill="#b0e2b0"/>
<circle cx="720.05" cy="344.50" r="6.1" fill="#2d6a2d"/>
<path d="M736.00,344.50A10.3,10.3 0 0 1 756.60,344.50Z" fill="#c3c3c3"/>
<path d="M736.00,344.50A10.3,10.3 0 0 0 756.60,344.50Z" fill="#e7e7e7"/>
<circle cx="746.30" cy="344.50" r="8.9" fill="#b0e2b0" opacity="0.45"/>
<circle cx="746.30" cy="344.50" r="7.3" fill="#b0e2b0"/>
<circle cx="746.30" cy="344.50" r="6.1" fill="#2d6a2d"/>
<path d="M158.50,423.40A10.3,10.3 0 0 1 179.10,423.40Z" fill="#c3c3c3"/>
<path d="M158.50,423.40A10.3,10.3 0 0 0 179.10,423.40Z" fill="#e7e7e7"/>
<circle cx="168.80" cy="423.40" r="6.1" fill="#3d3d3d"/>
<path d="M184.75,423.40A10.3,10.3 0 0 1 205.35,423.40Z" fill="#c3c3c3"/>
<path d="M184.75,423.40A10.3,10.3 0 0 0 205.35,423.40Z" fill="#e7e7e7"/>
<circle cx="195.05" cy="423.40" r="8.9" fill="#b0e2b0" opacity="0.45"/>
<circle cx="195.05" cy="423.40" r="7.3" fill="#b0e2b0"/>
<circle cx="195.05" cy="423.40" r="6.1" fill="#2d6a2d"/>
<path d="M211.00,423.40A10.3,10.3 0 0 1 231.60,423.40Z" fill="#c3c3c3"/>
<path d="M211.00,423.40A10.3,10.3 0 0 0 231.60,423.40Z" fill="#e7e7e7"/>
<circle cx="221.30" cy="423.40" r="6.1" fill="#3d3d3d"/>
<path d="M237.25,423.40A10.3,10.3 0 0 1 257.85,423.40Z" fill="#c3c3c3"/>
<path d="M237.25,423.40A10.3,10.3 0 0 0 257.85,423.40Z" fill="#e7e7e7"/>
<circle cx="247.55" cy="423.40" r="6.1" fill="#3d3d3d"/>
<path d="M263.50,423.40A10.3,10.3 0 0 1 284.10,423.40Z" fill="#c3c3c3"/>
<path d="M263.50,423.40A10.3,10.3 0 0 0 284.10,423.40Z" fill="#e7e7e7"/>
<circle cx="273.80" cy="423.40" r="8.9" fill="#b0e2b0" opacity="0.45"/>
<circle cx="273.80" cy="423.40" r="7.3" fill="#b0e2b0"/>
<circle cx="273.80" cy="423.40" r="6.1" fill="#2d6a2d"/>
<path d="M289.75,423.40A10.3,10.3 0 0 1 310.35,423.40Z" fill="#c3c3c3"/>
<path d="M289.75,423.40A10.3,10.3 0 0 0 310.35,423.40Z" fill="#e7e7e7"/>
<circle cx="300.05" cy="423.40" r="6.1" fill="#3d3d3d"/>
<path d="M316.00,423.40A10.3,10.3 0 0 1 336.60,423.40Z" fill="#c3c3c3"/>
<path d="M316.00,423.40A10.3,10.3 0 0 0 336.60,423.40Z" fill="#e7e7e7"/>
<circle cx="326.30" cy="423.40" r="8.9" fill="#b0e2b0" opacity="0.45"/>
<circle cx="326.30" cy="423.40" r="7.3" fill="#b0e2b0"/>
<circle cx="326.30" cy="423.40" r="6.1" fill="#2d6a2d"/>
<path d="M342.25,423.40A10.3,10.3 0 0 1 362.85,423.40Z" fill="#c3c3c3"/>
<path d="M342.25,423.40A10.3,10.3 0 0 0 362.85,423.40Z" fill="#e7e7e7"/>
<circle cx="352.55" cy="423.40" r="8.9" fill="#b0e2b0" opacity="0.45"/>
<circle cx="352.55" cy="423.40" r="7.3" fill="#b0e2b0"/>
<circle cx="352.55" cy="423.40" r="6.1" fill="#2d6a2d"/>
<path d="M368.50,423.40A10.3,10.3 0 0 1 389.10,423.40Z" fill="#c3c3c3"/>
<path d="M368.50,423.40A10.3,10.3 0 0 0 389.10,423.40Z" fill="#e7e7e7"/>
<circle cx="378.80" cy="423.40" r="8.9" fill="#b0e2b0" opacity="0.45"/>
<circle cx="378.80" cy="423.40" r="7.3" fill="#b0e2b0"/>
<circle cx="378.80" cy="423.40" r="6.1" fill="#2d6a2d"/>
<path d="M394.75,423.40A10.3,10.3 0 0 1 415.35,423.40Z" fill="#c3c3c3"/>
<path d="M394.75,423.40A10.3,10.3 0 0 0 415.35,423.40Z" fill="#e7e7e7"/>
<circle cx="405.05" cy="423.40" r="8.9" fill="#b0e2b0" opacity="0.45"/>
<circle cx="405.05" cy="423.40" r="7.3" fill="#b0e2b0"/>
<circle cx="405.05" cy="423.40" r="6.1" fill="#2d6a2d"/>
<path d="M421.00,423.40A10.3,10.3 0 0 1 441.60,423.40Z" fill="#c3c3c3"/>
<path d="M421.00,423.40A10.3,10.3 0 0 0 441.60,423.40Z" fill="#e7e7e7"/>
<circle cx="431.30" cy="423.40" r="8.9" fill="#b0e2b0" opacity="0.45"/>
<circle cx="431.30" cy="423.40" r="7.3" fill="#b0e2b0"/>
<circle cx="431.30" cy="423.40" r="6.1" fill="#2d6a2d"/>
<path d="M447.25,423.40A10.3,10.3 0 0 1 467.85,423.40Z" fill="#c3c3c3"/>
<path d="M447.25,423.40A10.3,10.3 0 0 0 467.85,423.40Z" fill="#e7e7e7"/>
<circle cx="457.55" cy="423.40" r="8.9" fill="#b0e2b0" opacity="0.45"/>
<circle cx="457.55" cy="423.40" r="7.3" fill="#b0e2b0"/>
<circle cx="457.55" cy="423.40" r="6.1" fill="#2d6a2d"/>
<path d="M473.50,423.40A10.3,10.3 0 0 1 494.10,423.40Z" fill="#c3c3c3"/>
<path d="M473.50,423.40A10.3,10.3 0 0 0 494.10,423.40Z" fill="#e7e7e7"/>
<circle cx="483.80" cy="423.40" r="8.9" fill="#b0e2b0" opacity="0.45"/>
<circle cx="483.80" cy="423.40" r="7.3" fill="#b0e2b0"/>
<circle cx="483.80" cy="423.40" r="6.1" fill="#2d6a2d"/>
<path d="M499.75,423.40A10.3,10.3 0 0 1 520.35,423.40Z" fill="#c3c3c3"/>
<path d="M499.75,423.40A10.3,10.3 0 0 0 520.35,423.40Z" fill="#e7e7e7"/>
<circle cx="510.05" cy="423.40" r="8.9" fill="#b0e2b0" opacity="0.45"/>
<circle cx="510.05" cy="423.40" r="7.3" fill="#b0e2b0"/>
<circle cx="510.05" cy="423.40" r="6.1" fill="#2d6a2d"/>
<path d="M526.00,423.40A10.3,10.3 0 0 1 546.60,423.40Z" fill="#c3c3c3"/>
<path d="M526.00,423.40A10.3,10.3 0 0 0 546.60,423.40Z" fill="#e7e7e7"/>
<circle cx="536.30" cy="423.40" r="8.9" fill="#b0e2b0" opacity="0.45"/>
<circle cx="536.30" cy="423.40" r="7.3" fill="#b0e2b0"/>
<circle cx="536.30" cy="423.40" r="6.1" fill="#2d6a2d"/>
<path d="M552.25,423.40A10.3,10.3 0 0 1 572.85,423.40Z" fill="#c3c3c3"/>
<path d="M552.25,423.40A10.3,10.3 0 0 0 572.85,423.40Z" fill="#e7e7e7"/>
<circle cx="562.55" cy="423.40" r="8.9" fill="#b0e2b0" opacity="0.45"/>
<circle cx="562.55" cy="423.40" r="7.3" fill="#b0e2b0"/>
<circle cx="562.55" cy="423.40" r="6.1" fill="#2d6a2d"/>
<path d="M578.50,423.40A10.3,10.3 0 0 1 599.10,423.40Z" fill="#c3c3c3"/>
<path d="M578.50,423.40A10.3,10.3 0 0 0 599.10,423.40Z" fill="#e7e7e7"/>
<circle cx="588.80" cy="423.40" r="6.1" fill="#3d3d3d"/>
<path d="M604.75,423.40A10.3,10.3 0 0 1 625.35,423.40Z" fill="#c3c3c3"/>
<path d="M604.75,423.40A10.3,10.3 0 0 0 625.35,423.40Z" fill="#e7e7e7"/>
<circle cx="615.05" cy="423.40" r="6.1" fill="#3d3d3d"/>
<path d="M631.00,423.40A10.3,10.3 0 0 1 651.60,423.40Z" fill="#c3c3c3"/>
<path d="M631.00,423.40A10.3,10.3 0 0 0 651.60,423.40Z" fill="#e7e7e7"/>
<circle cx="641.30" cy="423.40" r="8.9" fill="#b0e2b0" opacity="0.45"/>
<circle cx="641.30" cy="423.40" r="7.3" fill="#b0e2b0"/>
<circle cx="641.30" cy="423.40" r="6.1" fill="#2d6a2d"/>
<path d="M657.25,423.40A10.3,10.3 0 0 1 677.85,423.40Z" fill="#c3c3c3"/>
<path d="M657.25,423.40A10.3,10.3 0 0 0 677.85,423.40Z" fill="#e7e7e7"/>
<circle cx="667.55" cy="423.40" r="6.1" fill="#3d3d3d"/>
<path d="M683.50,423.40A10.3,10.3 0 0 1 704.10,423.40Z" fill="#c3c3c3"/>
<path d="M683.50,423.40A10.3,10.3 0 0 0 704.10,423.40Z" fill="#e7e7e7"/>
<circle cx="693.80" cy="423.40" r="6.1" fill="#3d3d3d"/>
<path d="M709.75,423.40A10.3,10.3 0 0 1 730.35,423.40Z" fill="#c3c3c3"/>
<path d="M709.75,423.40A10.3,10.3 0 0 0 730.35,423.40Z" fill="#e7e7e7"/>
<circle cx="720.05" cy="423.40" r="8.9" fill="#b0e2b0" opacity="0.45"/>
<circle cx="720.05" cy="423.40" r="7.3" fill="#b0e2b0"/>
<circle cx="720.05" cy="423.40" r="6.1" fill="#2d6a2d"/>
<path d="M736.00,423.40A10.3,10.3 0 0 1 756.60,423.40Z" fill="#c3c3c3"/>
<path d="M736.00,423.40A10.3,10.3 0 0 0 756.60,423.40Z" fill="#e7e7e7"/>
<circle cx="746.30" cy="423.40" r="8.9" fill="#b0e2b0" opacity="0.45"/>
<circle cx="746.30" cy="423.40" r="7.3" fill="#b0e2b0"/>
<circle cx="746.30" cy="423.40" r="6.1" fill="#2d6a2d"/>
<path d="M158.50,449.80A10.3,10.3 0 0 1 179.10,449.80Z" fill="#c3c3c3"/>
<path d="M158.50,449.80A10.3,10.3 0 0 0 179.10,449.80Z" fill="#e7e7e7"/>
<circle cx="168.80" cy="449.80" r="6.1" fill="#3d3d3d"/>
<path d="M184.75,449.80A10.3,10.3 0 0 1 205.35,449.80Z" fill="#c3c3c3"/>
<path d="M184.75,449.80A10.3,10.3 0 0 0 205.35,449.80Z" fill="#e7e7e7"/>
<circle cx="195.05" cy="449.80" r="8.9" fill="#b0e2b0" opacity="0.45"/>
<circle cx="195.05" cy="449.80" r="7.3" fill="#b0e2b0"/>
<circle cx="195.05" cy="449.80" r="6.1" fill="#2d6a2d"/>
<path d="M211.00,449.80A10.3,10.3 0 0 1 231.60,449.80Z" fill="#c3c3c3"/>
<path d="M211.00,449.80A10.3,10.3 0 0 0 231.60,449.80Z" fill="#e7e7e7"/>
<circle cx="221.30" cy="449.80" r="6.1" fill="#3d3d3d"/>
<path d="M237.25,449.80A10.3,10.3 0 0 1 257.85,449.80Z" fill="#c3c3c3"/>
<path d="M237.25,449.80A10.3,10.3 0 0 0 257.85,449.80Z" fill="#e7e7e7"/>
<circle cx="247.55" cy="449.80" r="6.1" fill="#3d3d3d"/>
<path d="M263.50,449.80A10.3,10.3 0 0 1 284.10,449.80Z" fill="#c3c3c3"/>
<path d="M263.50,449.80A10.3,10.3 0 0 0 284.10,449.80Z" fill="#e7e7e7"/>
<circle cx="273.80" cy="449.80" r="8.9" fill="#b0e2b0" opacity="0.45"/>
<circle cx="273.80" cy="449.80" r="7.3" fill="#b0e2b0"/>
<circle cx="273.80" cy="449.80" r="6.1" fill="#2d6a2d"/>
<path d="M289.75,449.80A10.3,10.3 0 0 1 310.35,449.80Z" fill="#c3c3c3"/>
<path d="M289.75,449.80A10.3,10.3 0 0 0 310.35,449.80Z" fill="#e7e7e7"/>
<circle cx="300.05" cy="449.80" r="6.1" fill="#3d3d3d"/>
<path d="M316.00,449.80A10.3,10.3 0 0 1 336.60,449.80Z" fill="#c3c3c3"/>
<path d="M316.00,449.80A10.3,10.3 0 0 0 336.60,449.80Z" fill="#e7e7e7"/>
<circle cx="326.30" cy="449.80" r="8.9" fill="#b0e2b0" opacity="0.45"/>
<circle cx="326.30" cy="449.80" r="7.3" fill="#b0e2b0"/>
<circle cx="326.30" cy="449.80" r="6.1" fill="#2d6a2d"/>
<path d="M342.25,449.80A10.3,10.3 0 0 1 362.85,449.80Z" fill="#c3c3c3"/>
<path d="M342.25,449.80A10.3,10.3 0 0 0 362.85,449.80Z" fill="#e7e7e7"/>
<circle cx="352.55" cy="449.80" r="8.9" fill="#b0e2b0" opacity="0.45"/>
<circle cx="352.55" cy="449.80" r="7.3" fill="#b0e2b0"/>
<circle cx="352.55" cy="449.80" r="6.1" fill="#2d6a2d"/>
<path d="M368.50,449.80A10.3,10.3 0 0 1 389.10,449.80Z" fill="#c3c3c3"/>
<path d="M368.50,449.80A10.3,10.3 0 0 0 389.10,449.80Z" fill="#e7e7e7"/>
<circle cx="378.80" cy="449.80" r="8.9" fill="#b0e2b0" opacity="0.45"/>
<circle cx="378.80" cy="449.80" r="7.3" fill="#b0e2b0"/>
<circle cx="378.80" cy="449.80" r="6.1" fill="#2d6a2d"/>
<path d="M394.75,449.80A10.3,10.3 0 0 1 415.35,449.80Z" fill="#c3c3c3"/>
<path d="M394.75,449.80A10.3,10.3 0 0 0 415.35,449.80Z" fill="#e7e7e7"/>
<circle cx="405.05" cy="449.80" r="8.9" fill="#b0e2b0" opacity="0.45"/>
<circle cx="405.05" cy="449.80" r="7.3" fill="#b0e2b0"/>
<circle cx="405.05" cy="449.80" r="6.1" fill="#2d6a2d"/>
<path d="M421.00,449.80A10.3,10.3 0 0 1 441.60,449.80Z" fill="#c3c3c3"/>
<path d="M421.00,449.80A10.3,10.3 0 0 0 441.60,449.80Z" fill="#e7e7e7"/>
<circle cx="431.30" cy="449.80" r="8.9" fill="#b0e2b0" opacity="0.45"/>
<circle cx="431.30" cy="449.80" r="7.3" fill="#b0e2b0"/>
<circle cx="431.30" cy="449.80" r="6.1" fill="#2d6a2d"/>
<path d="M447.25,449.80A10.3,10.3 0 0 1 467.85,449.80Z" fill="#c3c3c3"/>
<path d="M447.25,449.80A10.3,10.3 0 0 0 467.85,449.80Z" fill="#e7e7e7"/>
<circle cx="457.55" cy="449.80" r="8.9" fill="#b0e2b0" opacity="0.45"/>
<circle cx="457.55" cy="449.80" r="7.3" fill="#b0e2b0"/>
<circle cx="457.55" cy="449.80" r="6.1" fill="#2d6a2d"/>
<path d="M473.50,449.80A10.3,10.3 0 0 1 494.10,449.80Z" fill="#c3c3c3"/>
<path d="M473.50,449.80A10.3,10.3 0 0 0 494.10,449.80Z" fill="#e7e7e7"/>
<circle cx="483.80" cy="449.80" r="8.9" fill="#b0e2b0" opacity="0.45"/>
<circle cx="483.80" cy="449.80" r="7.3" fill="#b0e2b0"/>
<circle cx="483.80" cy="449.80" r="6.1" fill="#2d6a2d"/>
<path d="M499.75,449.80A10.3,10.3 0 0 1 520.35,449.80Z" fill="#c3c3c3"/>
<path d="M499.75,449.80A10.3,10.3 0 0 0 520.35,449.80Z" fill="#e7e7e7"/>
<circle cx="510.05" cy="449.80" r="8.9" fill="#b0e2b0" opacity="0.45"/>
<circle cx="510.05" cy="449.80" r="7.3" fill="#b0e2b0"/>
<circle cx="510.05" cy="449.80" r="6.1" fill="#2d6a2d"/>
<path d="M526.00,449.80A10.3,10.3 0 0 1 546.60,449.80Z" fill="#c3c3c3"/>
<path d="M526.00,449.80A10.3,10.3 0 0 0 546.60,449.80Z" fill="#e7e7e7"/>
<circle cx="536.30" cy="449.80" r="8.9" fill="#b0e2b0" opacity="0.45"/>
<circle cx="536.30" cy="449.80" r="7.3" fill="#b0e2b0"/>
<circle cx="536.30" cy="449.80" r="6.1" fill="#2d6a2d"/>
<path d="M552.25,449.80A10.3,10.3 0 0 1 572.85,449.80Z" fill="#c3c3c3"/>
<path d="M552.25,449.80A10.3,10.3 0 0 0 572.85,449.80Z" fill="#e7e7e7"/>
<circle cx="562.55" cy="449.80" r="8.9" fill="#b0e2b0" opacity="0.45"/>
<circle cx="562.55" cy="449.80" r="7.3" fill="#b0e2b0"/>
<circle cx="562.55" cy="449.80" r="6.1" fill="#2d6a2d"/>
<path d="M578.50,449.80A10.3,10.3 0 0 1 599.10,449.80Z" fill="#c3c3c3"/>
<path d="M578.50,449.80A10.3,10.3 0 0 0 599.10,449.80Z" fill="#e7e7e7"/>
<circle cx="588.80" cy="449.80" r="6.1" fill="#3d3d3d"/>
<path d="M604.75,449.80A10.3,10.3 0 0 1 625.35,449.80Z" fill="#c3c3c3"/>
<path d="M604.75,449.80A10.3,10.3 0 0 0 625.35,449.80Z" fill="#e7e7e7"/>
<circle cx="615.05" cy="449.80" r="6.1" fill="#3d3d3d"/>
<path d="M631.00,449.80A10.3,10.3 0 0 1 651.60,449.80Z" fill="#c3c3c3"/>
<path d="M631.00,449.80A10.3,10.3 0 0 0 651.60,449.80Z" fill="#e7e7e7"/>
<circle cx="641.30" cy="449.80" r="8.9" fill="#b0e2b0" opacity="0.45"/>
<circle cx="641.30" cy="449.80" r="7.3" fill="#b0e2b0"/>
<circle cx="641.30" cy="449.80" r="6.1" fill="#2d6a2d"/>
<path d="M657.25,449.80A10.3,10.3 0 0 1 677.85,449.80Z" fill="#c3c3c3"/>
<path d="M657.25,449.80A10.3,10.3 0 0 0 677.85,449.80Z" fill="#e7e7e7"/>
<circle cx="667.55" cy="449.80" r="6.1" fill="#3d3d3d"/>
<path d="M683.50,449.80A10.3,10.3 0 0 1 704.10,449.80Z" fill="#c3c3c3"/>
<path d="M683.50,449.80A10.3,10.3 0 0 0 704.10,449.80Z" fill="#e7e7e7"/>
<circle cx="693.80" cy="449.80" r="6.1" fill="#3d3d3d"/>
<path d="M709.75,449.80A10.3,10.3 0 0 1 730.35,449.80Z" fill="#c3c3c3"/>
<path d="M709.75,449.80A10.3,10.3 0 0 0 730.35,449.80Z" fill="#e7e7e7"/>
<circle cx="720.05" cy="449.80" r="8.9" fill="#b0e2b0" opacity="0.45"/>
<circle cx="720.05" cy="449.80" r="7.3" fill="#b0e2b0"/>
<circle cx="720.05" cy="449.80" r="6.1" fill="#2d6a2d"/>
<path d="M736.00,449.80A10.3,10.3 0 0 1 756.60,449.80Z" fill="#c3c3c3"/>
<path d="M736.00,449.80A10.3,10.3 0 0 0 756.60,449.80Z" fill="#e7e7e7"/>
<circle cx="746.30" cy="449.80" r="8.9" fill="#b0e2b0" opacity="0.45"/>
<circle cx="746.30" cy="449.80" r="7.3" fill="#b0e2b0"/>
<circle cx="746.30" cy="449.80" r="6.1" fill="#2d6a2d"/>
<path d="M158.50,476.00A10.3,10.3 0 0 1 179.10,476.00Z" fill="#c3c3c3"/>
<path d="M158.50,476.00A10.3,10.3 0 0 0 179.10,476.00Z" fill="#e7e7e7"/>
<circle cx="168.80" cy="476.00" r="6.1" fill="#3d3d3d"/>
<path d="M184.75,476.00A10.3,10.3 0 0 1 205.35,476.00Z" fill="#c3c3c3"/>
<path d="M184.75,476.00A10.3,10.3 0 0 0 205.35,476.00Z" fill="#e7e7e7"/>
<circle cx="195.05" cy="476.00" r="8.9" fill="#b0e2b0" opacity="0.45"/>
<circle cx="195.05" cy="476.00" r="7.3" fill="#b0e2b0"/>
<circle cx="195.05" cy="476.00" r="6.1" fill="#2d6a2d"/>
<path d="M211.00,476.00A10.3,10.3 0 0 1 231.60,476.00Z" fill="#c3c3c3"/>
<path d="M211.00,476.00A10.3,10.3 0 0 0 231.60,476.00Z" fill="#e7e7e7"/>
<circle cx="221.30" cy="476.00" r="6.1" fill="#3d3d3d"/>
<path d="M237.25,476.00A10.3,10.3 0 0 1 257.85,476.00Z" fill="#c3c3c3"/>
<path d="M237.25,476.00A10.3,10.3 0 0 0 257.85,476.00Z" fill="#e7e7e7"/>
<circle cx="247.55" cy="476.00" r="6.1" fill="#3d3d3d"/>
<path d="M263.50,476.00A10.3,10.3 0 0 1 284.10,476.00Z" fill="#c3c3c3"/>
<path d="M263.50,476.00A10.3,10.3 0 0 0 284.10,476.00Z" fill="#e7e7e7"/>
<circle cx="273.80" cy="476.00" r="8.9" fill="#b0e2b0" opacity="0.45"/>
<circle cx="273.80" cy="476.00" r="7.3" fill="#b0e2b0"/>
<circle cx="273.80" cy="476.00" r="6.1" fill="#2d6a2d"/>
<path d="M289.75,476.00A10.3,10.3 0 0 1 310.35,476.00Z" fill="#c3c3c3"/>
<path d="M289.75,476.00A10.3,10.3 0 0 0 310.35,476.00Z" fill="#e7e7e7"/>
<circle cx="300.05" cy="476.00" r="6.1" fill="#3d3d3d"/>
<path d="M316.00,476.00A10.3,10.3 0 0 1 336.60,476.00Z" fill="#c3c3c3"/>
<path d="M316.00,476.00A10.3,10.3 0 0 0 336.60,476.00Z" fill="#e7e7e7"/>
<circle cx="326.30" cy="476.00" r="8.9" fill="#b0e2b0" opacity="0.45"/>
<circle cx="326.30" cy="476.00" r="7.3" fill="#b0e2b0"/>
<circle cx="326.30" cy="476.00" r="6.1" fill="#2d6a2d"/>
<path d="M342.25,476.00A10.3,10.3 0 0 1 362.85,476.00Z" fill="#c3c3c3"/>
<path d="M342.25,476.00A10.3,10.3 0 0 0 362.85,476.00Z" fill="#e7e7e7"/>
<circle cx="352.55" cy="476.00" r="8.9" fill="#b0e2b0" opacity="0.45"/>
<circle cx="352.55" cy="476.00" r="7.3" fill="#b0e2b0"/>
<circle cx="352.55" cy="476.00" r="6.1" fill="#2d6a2d"/>
<path d="M368.50,476.00A10.3,10.3 0 0 1 389.10,476.00Z" fill="#c3c3c3"/>
<path d="M368.50,476.00A10.3,10.3 0 0 0 389.10,476.00Z" fill="#e7e7e7"/>
<circle cx="378.80" cy="476.00" r="8.9" fill="#b0e2b0" opacity="0.45"/>
<circle cx="378.80" cy="476.00" r="7.3" fill="#b0e2b0"/>
<circle cx="378.80" cy="476.00" r="6.1" fill="#2d6a2d"/>
<path d="M394.75,476.00A10.3,10.3 0 0 1 415.35,476.00Z" fill="#c3c3c3"/>
<path d="M394.75,476.00A10.3,10.3 0 0 0 415.35,476.00Z" fill="#e7e7e7"/>
<circle cx="405.05" cy="476.00" r="8.9" fill="#b0e2b0" opacity="0.45"/>
<circle cx="405.05" cy="476.00" r="7.3" fill="#b0e2b0"/>
<circle cx="405.05" cy="476.00" r="6.1" fill="#2d6a2d"/>
<path d="M421.00,476.00A10.3,10.3 0 0 1 441.60,476.00Z" fill="#c3c3c3"/>
<path d="M421.00,476.00A10.3,10.3 0 0 0 441.60,476.00Z" fill="#e7e7e7"/>
<circle cx="431.30" cy="476.00" r="8.9" fill="#b0e2b0" opacity="0.45"/>
<circle cx="431.30" cy="476.00" r="7.3" fill="#b0e2b0"/>
<circle cx="431.30" cy="476.00" r="6.1" fill="#2d6a2d"/>
<path d="M447.25,476.00A10.3,10.3 0 0 1 467.85,476.00Z" fill="#c3c3c3"/>
<path d="M447.25,476.00A10.3,10.3 0 0 0 467.85,476.00Z" fill="#e7e7e7"/>
<circle cx="457.55" cy="476.00" r="8.9" fill="#b0e2b0" opacity="0.45"/>
<circle cx="457.55" cy="476.00" r="7.3" fill="#b0e2b0"/>
<circle cx="457.55" cy="476.00" r="6.1" fill="#2d6a2d"/>
<path d="M473.50,476.00A10.3,10.3 0 0 1 494.10,476.00Z" fill="#c3c3c3"/>
<path d="M473.50,476.00A10.3,10.3 0 0 0 494.10,476.00Z" fill="#e7e7e7"/>
<circle cx="483.80" cy="476.00" r="8.9" fill="#b0e2b0" opacity="0.45"/>
<circle cx="483.80" cy="476.00" r="7.3" fill="#b0e2b0"/>
<circle cx="483.80" cy="476.00" r="6.1" fill="#2d6a2d"/>
<path d="M499.75,476.00A10.3,10.3 0 0 1 520.35,476.00Z" fill="#c3c3c3"/>
<path d="M499.75,476.00A10.3,10.3 0 0 0 520.35,476.00Z" fill="#e7e7e7"/>
<circle cx="510.05" cy="476.00" r="8.9" fill="#b0e2b0" opacity="0.45"/>
<circle cx="510.05" cy="476.00" r="7.3" fill="#b0e2b0"/>
<circle cx="510.05" cy="476.00" r="6.1" fill="#2d6a2d"/>
<path d="M526.00,476.00A10.3,10.3 0 0 1 546.60,476.00Z" fill="#c3c3c3"/>
<path d="M526.00,476.00A10.3,10.3 0 0 0 546.60,476.00Z" fill="#e7e7e7"/>
<circle cx="536.30" cy="476.00" r="8.9" fill="#b0e2b0" opacity="0.45"/>
<circle cx="536.30" cy="476.00" r="7.3" fill="#b0e2b0"/>
<circle cx="536.30" cy="476.00" r="6.1" fill="#2d6a2d"/>
<path d="M552.25,476.00A10.3,10.3 0 0 1 572.85,476.00Z" fill="#c3c3c3"/>
<path d="M552.25,476.00A10.3,10.3 0 0 0 572.85,476.00Z" fill="#e7e7e7"/>
<circle cx="562.55" cy="476.00" r="8.9" fill="#b0e2b0" opacity="0.45"/>
<circle cx="562.55" cy="476.00" r="7.3" fill="#b0e2b0"/>
<circle cx="562.55" cy="476.00" r="6.1" fill="#2d6a2d"/>
<path d="M578.50,476.00A10.3,10.3 0 0 1 599.10,476.00Z" fill="#c3c3c3"/>
<path d="M578.50,476.00A10.3,10.3 0 0 0 599.10,476.00Z" fill="#e7e7e7"/>
<circle cx="588.80" cy="476.00" r="6.1" fill="#3d3d3d"/>
<path d="M604.75,476.00A10.3,10.3 0 0 1 625.35,476.00Z" fill="#c3c3c3"/>
<path d="M604.75,476.00A10.3,10.3 0 0 0 625.35,476.00Z" fill="#e7e7e7"/>
<circle cx="615.05" cy="476.00" r="6.1" fill="#3d3d3d"/>
<path d="M631.00,476.00A10.3,10.3 0 0 1 651.60,476.00Z" fill="#c3c3c3"/>
<path d="M631.00,476.00A10.3,10.3 0 0 0 651.60,476.00Z" fill="#e7e7e7"/>
<circle cx="641.30" cy="476.00" r="8.9" fill="#b0e2b0" opacity="0.45"/>
<circle cx="641.30" cy="476.00" r="7.3" fill="#b0e2b0"/>
<circle cx="641.30" cy="476.00" r="6.1" fill="#2d6a2d"/>
<path d="M657.25,476.00A10.3,10.3 0 0 1 677.85,476.00Z" fill="#c3c3c3"/>
<path d="M657.25,476.00A10.3,10.3 0 0 0 677.85,476.00Z" fill="#e7e7e7"/>
<circle cx="667.55" cy="476.00" r="6.1" fill="#3d3d3d"/>
<path d="M683.50,476.00A10.3,10.3 0 0 1 704.10,476.00Z" fill="#c3c3c3"/>
<path d="M683.50,476.00A10.3,10.3 0 0 0 704.10,476.00Z" fill="#e7e7e7"/>
<circle cx="693.80" cy="476.00" r="6.1" fill="#3d3d3d"/>
<path d="M709.75,476.00A10.3,10.3 0 0 1 730.35,476.00Z" fill="#c3c3c3"/>
<path d="M709.75,476.00A10.3,10.3 0 0 0 730.35,476.00Z" fill="#e7e7e7"/>
<circle cx="720.05" cy="476.00" r="8.9" fill="#b0e2b0" opacity="0.45"/>
<circle cx="720.05" cy="476.00" r="7.3" fill="#b0e2b0"/>
<circle cx="720.05" cy="476.00" r="6.1" fill="#2d6a2d"/>
<path d="M736.00,476.00A10.3,10.3 0 0 1 756.60,476.00Z" fill="#c3c3c3"/>
<path d="M736.00,476.00A10.3,10.3 0 0 0 756.60,476.00Z" fill="#e7e7e7"/>
<circle cx="746.30" cy="476.00" r="8.9" fill="#b0e2b0" opacity="0.45"/>
<circle cx="746.30" cy="476.00" r="7.3" fill="#b0e2b0"/>
<circle cx="746.30" cy="476.00" r="6.1" fill="#2d6a2d"/>
<path d="M158.50,502.10A10.3,10.3 0 0 1 179.10,502.10Z" fill="#c3c3c3"/>
<path d="M158.50,502.10A10.3,10.3 0 0 0 179.10,502.10Z" fill="#e7e7e7"/>
<circle cx="168.80" cy="502.10" r="6.1" fill="#3d3d3d"/>
<path d="M184.75,502.10A10.3,10.3 0 0 1 205.35,502.10Z" fill="#c3c3c3"/>
<path d="M184.75,502.10A10.3,10.3 0 0 0 205.35,502.10Z" fill="#e7e7e7"/>
<circle cx="195.05" cy="502.10" r="8.9" fill="#b0e2b0" opacity="0.45"/>
<circle cx="195.05" cy="502.10" r="7.3" fill="#b0e2b0"/>
<circle cx="195.05" cy="502.10" r="6.1" fill="#2d6a2d"/>
<path d="M211.00,502.10A10.3,10.3 0 0 1 231.60,502.10Z" fill="#c3c3c3"/>
<path d="M211.00,502.10A10.3,10.3 0 0 0 231.60,502.10Z" fill="#e7e7e7"/>
<circle cx="221.30" cy="502.10" r="6.1" fill="#3d3d3d"/>
<path d="M237.25,502.10A10.3,10.3 0 0 1 257.85,502.10Z" fill="#c3c3c3"/>
<path d="M237.25,502.10A10.3,10.3 0 0 0 257.85,502.10Z" fill="#e7e7e7"/>
<circle cx="247.55" cy="502.10" r="6.1" fill="#3d3d3d"/>
<path d="M263.50,502.10A10.3,10.3 0 0 1 284.10,502.10Z" fill="#c3c3c3"/>
<path d="M263.50,502.10A10.3,10.3 0 0 0 284.10,502.10Z" fill="#e7e7e7"/>
<circle cx="273.80" cy="502.10" r="8.9" fill="#b0e2b0" opacity="0.45"/>
<circle cx="273.80" cy="502.10" r="7.3" fill="#b0e2b0"/>
<circle cx="273.80" cy="502.10" r="6.1" fill="#2d6a2d"/>
<path d="M289.75,502.10A10.3,10.3 0 0 1 310.35,502.10Z" fill="#c3c3c3"/>
<path d="M289.75,502.10A10.3,10.3 0 0 0 310.35,502.10Z" fill="#e7e7e7"/>
<circle cx="300.05" cy="502.10" r="6.1" fill="#3d3d3d"/>
<path d="M316.00,502.10A10.3,10.3 0 0 1 336.60,502.10Z" fill="#c3c3c3"/>
<path d="M316.00,502.10A10.3,10.3 0 0 0 336.60,502.10Z" fill="#e7e7e7"/>
<circle cx="326.30" cy="502.10" r="8.9" fill="#b0e2b0" opacity="0.45"/>
<circle cx="326.30" cy="502.10" r="7.3" fill="#b0e2b0"/>
<circle cx="326.30" cy="502.10" r="6.1" fill="#2d6a2d"/>
<path d="M342.25,502.10A10.3,10.3 0 0 1 362.85,502.10Z" fill="#c3c3c3"/>
<path d="M342.25,502.10A10.3,10.3 0 0 0 362.85,502.10Z" fill="#e7e7e7"/>
<circle cx="352.55" cy="502.10" r="8.9" fill="#b0e2b0" opacity="0.45"/>
<circle cx="352.55" cy="502.10" r="7.3" fill="#b0e2b0"/>
<circle cx="352.55" cy="502.10" r="6.1" fill="#2d6a2d"/>
<path d="M368.50,502.10A10.3,10.3 0 0 1 389.10,502.10Z" fill="#c3c3c3"/>
<path d="M368.50,502.10A10.3,10.3 0 0 0 389.10,502.10Z" fill="#e7e7e7"/>
<circle cx="378.80" cy="502.10" r="8.9" fill="#b0e2b0" opacity="0.45"/>
<circle cx="378.80" cy="502.10" r="7.3" fill="#b0e2b0"/>
<circle cx="378.80" cy="502.10" r="6.1" fill="#2d6a2d"/>
<path d="M394.75,502.10A10.3,10.3 0 0 1 415.35,502.10Z" fill="#c3c3c3"/>
<path d="M394.75,502.10A10.3,10.3 0 0 0 415.35,502.10Z" fill="#e7e7e7"/>
<circle cx="405.05" cy="502.10" r="8.9" fill="#b0e2b0" opacity="0.45"/>
<circle cx="405.05" cy="502.10" r="7.3" fill="#b0e2b0"/>
<circle cx="405.05" cy="502.10" r="6.1" fill="#2d6a2d"/>
<path d="M421.00,502.10A10.3,10.3 0 0 1 441.60,502.10Z" fill="#c3c3c3"/>
<path d="M421.00,502.10A10.3,10.3 0 0 0 441.60,502.10Z" fill="#e7e7e7"/>
<circle cx="431.30" cy="502.10" r="8.9" fill="#b0e2b0" opacity="0.45"/>
<circle cx="431.30" cy="502.10" r="7.3" fill="#b0e2b0"/>
<circle cx="431.30" cy="502.10" r="6.1" fill="#2d6a2d"/>
<path d="M447.25,502.10A10.3,10.3 0 0 1 467.85,502.10Z" fill="#c3c3c3"/>
<path d="M447.25,502.10A10.3,10.3 0 0 0 467.85,502.10Z" fill="#e7e7e7"/>
<circle cx="457.55" cy="502.10" r="8.9" fill="#b0e2b0" opacity="0.45"/>
<circle cx="457.55" cy="502.10" r="7.3" fill="#b0e2b0"/>
<circle cx="457.55" cy="502.10" r="6.1" fill="#2d6a2d"/>
<path d="M473.50,502.10A10.3,10.3 0 0 1 494.10,502.10Z" fill="#c3c3c3"/>
<path d="M473.50,502.10A10.3,10.3 0 0 0 494.10,502.10Z" fill="#e7e7e7"/>
<circle cx="483.80" cy="502.10" r="8.9" fill="#b0e2b0" opacity="0.45"/>
<circle cx="483.80" cy="502.10" r="7.3" fill="#b0e2b0"/>
<circle cx="483.80" cy="502.10" r="6.1" fill="#2d6a2d"/>
<path d="M499.75,502.10A10.3,10.3 0 0 1 520.35,502.10Z" fill="#c3c3c3"/>
<path d="M499.75,502.10A10.3,10.3 0 0 0 520.35,502.10Z" fill="#e7e7e7"/>
<circle cx="510.05" cy="502.10" r="8.9" fill="#b0e2b0" opacity="0.45"/>
<circle cx="510.05" cy="502.10" r="7.3" fill="#b0e2b0"/>
<circle cx="510.05" cy="502.10" r="6.1" fill="#2d6a2d"/>
<path d="M526.00,502.10A10.3,10.3 0 0 1 546.60,502.10Z" fill="#c3c3c3"/>
<path d="M526.00,502.10A10.3,10.3 0 0 0 546.60,502.10Z" fill="#e7e7e7"/>
<circle cx="536.30" cy="502.10" r="8.9" fill="#b0e2b0" opacity="0.45"/>
<circle cx="536.30" cy="502.10" r="7.3" fill="#b0e2b0"/>
<circle cx="536.30" cy="502.10" r="6.1" fill="#2d6a2d"/>
<path d="M552.25,502.10A10.3,10.3 0 0 1 572.85,502.10Z" fill="#c3c3c3"/>
<path d="M552.25,502.10A10.3,10.3 0 0 0 572.85,502.10Z" fill="#e7e7e7"/>
<circle cx="562.55" cy="502.10" r="8.9" fill="#b0e2b0" opacity="0.45"/>
<circle cx="562.55" cy="502.10" r="7.3" fill="#b0e2b0"/>
<circle cx="562.55" cy="502.10" r="6.1" fill="#2d6a2d"/>
<path d="M578.50,502.10A10.3,10.3 0 0 1 599.10,502.10Z" fill="#c3c3c3"/>
<path d="M578.50,502.10A10.3,10.3 0 0 0 599.10,502.10Z" fill="#e7e7e7"/>
<circle cx="588.80" cy="502.10" r="6.1" fill="#3d3d3d"/>
<path d="M604.75,502.10A10.3,10.3 0 0 1 625.35,502.10Z" fill="#c3c3c3"/>
<path d="M604.75,502.10A10.3,10.3 0 0 0 625.35,502.10Z" fill="#e7e7e7"/>
<circle cx="615.05" cy="502.10" r="6.1" fill="#3d3d3d"/>
<path d="M631.00,502.10A10.3,10.3 0 0 1 651.60,502.10Z" fill="#c3c3c3"/>
<path d="M631.00,502.10A10.3,10.3 0 0 0 651.60,502.10Z" fill="#e7e7e7"/>
<circle cx="641.30" cy="502.10" r="8.9" fill="#b0e2b0" opacity="0.45"/>
<circle cx="641.30" cy="502.10" r="7.3" fill="#b0e2b0"/>
<circle cx="641.30" cy="502.10" r="6.1" fill="#2d6a2d"/>
<path d="M657.25,502.10A10.3,10.3 0 0 1 677.85,502.10Z" fill="#c3c3c3"/>
<path d="M657.25,502.10A10.3,10.3 0 0 0 677.85,502.10Z" fill="#e7e7e7"/>
<circle cx="667.55" cy="502.10" r="6.1" fill="#3d3d3d"/>
<path d="M683.50,502.10A10.3,10.3 0 0 1 704.10,502.10Z" fill="#c3c3c3"/>
<path d="M683.50,502.10A10.3,10.3 0 0 0 704.10,502.10Z" fill="#e7e7e7"/>
<circle cx="693.80" cy="502.10" r="6.1" fill="#3d3d3d"/>
<path d="M709.75,502.10A10.3,10.3 0 0 1 730.35,502.10Z" fill="#c3c3c3"/>
<path d="M709.75,502.10A10.3,10.3 0 0 0 730.35,502.10Z" fill="#e7e7e7"/>
<circle cx="720.05" cy="502.10" r="8.9" fill="#b0e2b0" opacity="0.45"/>
<circle cx="720.05" cy="502.10" r="7.3" fill="#b0e2b0"/>
<circle cx="720.05" cy="502.10" r="6.1" fill="#2d6a2d"/>
<path d="M736.00,502.10A10.3,10.3 0 0 1 756.60,502.10Z" fill="#c3c3c3"/>
<path d="M736.00,502.10A10.3,10.3 0 0 0 756.60,502.10Z" fill="#e7e7e7"/>
<circle cx="746.30" cy="502.10" r="8.9" fill="#b0e2b0" opacity="0.45"/>
<circle cx="746.30" cy="502.10" r="7.3" fill="#b0e2b0"/>
<circle cx="746.30" cy="502.10" r="6.1" fill="#2d6a2d"/>
<path d="M158.50,528.30A10.3,10.3 0 0 1 179.10,528.30Z" fill="#c3c3c3"/>
<path d="M158.50,528.30A10.3,10.3 0 0 0 179.10,528.30Z" fill="#e7e7e7"/>
<circle cx="168.80" cy="528.30" r="6.1" fill="#3d3d3d"/>
<path d="M184.75,528.30A10.3,10.3 0 0 1 205.35,528.30Z" fill="#c3c3c3"/>
<path d="M184.75,528.30A10.3,10.3 0 0 0 205.35,528.30Z" fill="#e7e7e7"/>
<circle cx="195.05" cy="528.30" r="8.9" fill="#b0e2b0" opacity="0.45"/>
<circle cx="195.05" cy="528.30" r="7.3" fill="#b0e2b0"/>
<circle cx="195.05" cy="528.30" r="6.1" fill="#2d6a2d"/>
<path d="M211.00,528.30A10.3,10.3 0 0 1 231.60,528.30Z" fill="#c3c3c3"/>
<path d="M211.00,528.30A10.3,10.3 0 0 0 231.60,528.30Z" fill="#e7e7e7"/>
<circle cx="221.30" cy="528.30" r="6.1" fill="#3d3d3d"/>
<path d="M237.25,528.30A10.3,10.3 0 0 1 257.85,528.30Z" fill="#c3c3c3"/>
<path d="M237.25,528.30A10.3,10.3 0 0 0 257.85,528.30Z" fill="#e7e7e7"/>
<circle cx="247.55" cy="528.30" r="6.1" fill="#3d3d3d"/>
<path d="M263.50,528.30A10.3,10.3 0 0 1 284.10,528.30Z" fill="#c3c3c3"/>
<path d="M263.50,528.30A10.3,10.3 0 0 0 284.10,528.30Z" fill="#e7e7e7"/>
<circle cx="273.80" cy="528.30" r="8.9" fill="#b0e2b0" opacity="0.45"/>
<circle cx="273.80" cy="528.30" r="7.3" fill="#b0e2b0"/>
<circle cx="273.80" cy="528.30" r="6.1" fill="#2d6a2d"/>
<path d="M289.75,528.30A10.3,10.3 0 0 1 310.35,528.30Z" fill="#c3c3c3"/>
<path d="M289.75,528.30A10.3,10.3 0 0 0 310.35,528.30Z" fill="#e7e7e7"/>
<circle cx="300.05" cy="528.30" r="6.1" fill="#3d3d3d"/>
<path d="M316.00,528.30A10.3,10.3 0 0 1 336.60,528.30Z" fill="#c3c3c3"/>
<path d="M316.00,528.30A10.3,10.3 0 0 0 336.60,528.30Z" fill="#e7e7e7"/>
<circle cx="326.30" cy="528.30" r="8.9" fill="#b0e2b0" opacity="0.45"/>
<circle cx="326.30" cy="528.30" r="7.3" fill="#b0e2b0"/>
<circle cx="326.30" cy="528.30" r="6.1" fill="#2d6a2d"/>
<path d="M342.25,528.30A10.3,10.3 0 0 1 362.85,528.30Z" fill="#c3c3c3"/>
<path d="M342.25,528.30A10.3,10.3 0 0 0 362.85,528.30Z" fill="#e7e7e7"/>
<circle cx="352.55" cy="528.30" r="8.9" fill="#b0e2b0" opacity="0.45"/>
<circle cx="352.55" cy="528.30" r="7.3" fill="#b0e2b0"/>
<circle cx="352.55" cy="528.30" r="6.1" fill="#2d6a2d"/>
<path d="M368.50,528.30A10.3,10.3 0 0 1 389.10,528.30Z" fill="#c3c3c3"/>
<path d="M368.50,528.30A10.3,10.3 0 0 0 389.10,528.30Z" fill="#e7e7e7"/>
<circle cx="378.80" cy="528.30" r="8.9" fill="#b0e2b0" opacity="0.45"/>
<circle cx="378.80" cy="528.30" r="7.3" fill="#b0e2b0"/>
<circle cx="378.80" cy="528.30" r="6.1" fill="#2d6a2d"/>
<path d="M394.75,528.30A10.3,10.3 0 0 1 415.35,528.30Z" fill="#c3c3c3"/>
<path d="M394.75,528.30A10.3,10.3 0 0 0 415.35,528.30Z" fill="#e7e7e7"/>
<circle cx="405.05" cy="528.30" r="8.9" fill="#b0e2b0" opacity="0.45"/>
<circle cx="405.05" cy="528.30" r="7.3" fill="#b0e2b0"/>
<circle cx="405.05" cy="528.30" r="6.1" fill="#2d6a2d"/>
<path d="M421.00,528.30A10.3,10.3 0 0 1 441.60,528.30Z" fill="#c3c3c3"/>
<path d="M421.00,528.30A10.3,10.3 0 0 0 441.60,528.30Z" fill="#e7e7e7"/>
<circle cx="431.30" cy="528.30" r="8.9" fill="#b0e2b0" opacity="0.45"/>
<circle cx="431.30" cy="528.30" r="7.3" fill="#b0e2b0"/>
<circle cx="431.30" cy="528.30" r="6.1" fill="#2d6a2d"/>
<path d="M447.25,528.30A10.3,10.3 0 0 1 467.85,528.30Z" fill="#c3c3c3"/>
<path d="M447.25,528.30A10.3,10.3 0 0 0 467.85,528.30Z" fill="#e7e7e7"/>
<circle cx="457.55" cy="528.30" r="8.9" fill="#b0e2b0" opacity="0.45"/>
<circle cx="457.55" cy="528.30" r="7.3" fill="#b0e2b0"/>
<circle cx="457.55" cy="528.30" r="6.1" fill="#2d6a2d"/>
<path d="M473.50,528.30A10.3,10.3 0 0 1 494.10,528.30Z" fill="#c3c3c3"/>
<path d="M473.50,528.30A10.3,10.3 0 0 0 494.10,528.30Z" fill="#e7e7e7"/>
<circle cx="483.80" cy="528.30" r="8.9" fill="#b0e2b0" opacity="0.45"/>
<circle cx="483.80" cy="528.30" r="7.3" fill="#b0e2b0"/>
<circle cx="483.80" cy="528.30" r="6.1" fill="#2d6a2d"/>
<path d="M499.75,528.30A10.3,10.3 0 0 1 520.35,528.30Z" fill="#c3c3c3"/>
<path d="M499.75,528.30A10.3,10.3 0 0 0 520.35,528.30Z" fill="#e7e7e7"/>
<circle cx="510.05" cy="528.30" r="8.9" fill="#b0e2b0" opacity="0.45"/>
<circle cx="510.05" cy="528.30" r="7.3" fill="#b0e2b0"/>
<circle cx="510.05" cy="528.30" r="6.1" fill="#2d6a2d"/>
<path d="M526.00,528.30A10.3,10.3 0 0 1 546.60,528.30Z" fill="#c3c3c3"/>
<path d="M526.00,528.30A10.3,10.3 0 0 0 546.60,528.30Z" fill="#e7e7e7"/>
<circle cx="536.30" cy="528.30" r="8.9" fill="#b0e2b0" opacity="0.45"/>
<circle cx="536.30" cy="528.30" r="7.3" fill="#b0e2b0"/>
<circle cx="536.30" cy="528.30" r="6.1" fill="#2d6a2d"/>
<path d="M552.25,528.30A10.3,10.3 0 0 1 572.85,528.30Z" fill="#c3c3c3"/>
<path d="M552.25,528.30A10.3,10.3 0 0 0 572.85,528.30Z" fill="#e7e7e7"/>
<circle cx="562.55" cy="528.30" r="8.9" fill="#b0e2b0" opacity="0.45"/>
<circle cx="562.55" cy="528.30" r="7.3" fill="#b0e2b0"/>
<circle cx="562.55" cy="528.30" r="6.1" fill="#2d6a2d"/>
<path d="M578.50,528.30A10.3,10.3 0 0 1 599.10,528.30Z" fill="#c3c3c3"/>
<path d="M578.50,528.30A10.3,10.3 0 0 0 599.10,528.30Z" fill="#e7e7e7"/>
<circle cx="588.80" cy="528.30" r="6.1" fill="#3d3d3d"/>
<path d="M604.75,528.30A10.3,10.3 0 0 1 625.35,528.30Z" fill="#c3c3c3"/>
<path d="M604.75,528.30A10.3,10.3 0 0 0 625.35,528.30Z" fill="#e7e7e7"/>
<circle cx="615.05" cy="528.30" r="6.1" fill="#3d3d3d"/>
<path d="M631.00,528.30A10.3,10.3 0 0 1 651.60,528.30Z" fill="#c3c3c3"/>
<path d="M631.00,528.30A10.3,10.3 0 0 0 651.60,528.30Z" fill="#e7e7e7"/>
<circle cx="641.30" cy="528.30" r="8.9" fill="#b0e2b0" opacity="0.45"/>
<circle cx="641.30" cy="528.30" r="7.3" fill="#b0e2b0"/>
<circle cx="641.30" cy="528.30" r="6.1" fill="#2d6a2d"/>
<path d="M657.25,528.30A10.3,10.3 0 0 1 677.85,528.30Z" fill="#c3c3c3"/>
<path d="M657.25,528.30A10.3,10.3 0 0 0 677.85,528.30Z" fill="#e7e7e7"/>
<circle cx="667.55" cy="528.30" r="6.1" fill="#3d3d3d"/>
<path d="M683.50,528.30A10.3,10.3 0 0 1 704.10,528.30Z" fill="#c3c3c3"/>
<path d="M683.50,528.30A10.3,10.3 0 0 0 704.10,528.30Z" fill="#e7e7e7"/>
<circle cx="693.80" cy="528.30" r="6.1" fill="#3d3d3d"/>
<path d="M709.75,528.30A10.3,10.3 0 0 1 730.35,528.30Z" fill="#c3c3c3"/>
<path d="M709.75,528.30A10.3,10.3 0 0 0 730.35,528.30Z" fill="#e7e7e7"/>
<circle cx="720.05" cy="528.30" r="8.9" fill="#b0e2b0" opacity="0.45"/>
<circle cx="720.05" cy="528.30" r="7.3" fill="#b0e2b0"/>
<circle cx="720.05" cy="528.30" r="6.1" fill="#2d6a2d"/>
<path d="M736.00,528.30A10.3,10.3 0 0 1 756.60,528.30Z" fill="#c3c3c3"/>
<path d="M736.00,528.30A10.3,10.3 0 0 0 756.60,528.30Z" fill="#e7e7e7"/>
<circle cx="746.30" cy="528.30" r="8.9" fill="#b0e2b0" opacity="0.45"/>
<circle cx="746.30" cy="528.30" r="7.3" fill="#b0e2b0"/>
<circle cx="746.30" cy="528.30" r="6.1" fill="#2d6a2d"/>
<path d="M158.50,187.50A10.3,10.3 0 0 1 179.10,187.50Z" fill="#c3c3c3"/>
<path d="M158.50,187.50A10.3,10.3 0 0 0 179.10,187.50Z" fill="#e7e7e7"/>
<circle cx="168.80" cy="187.50" r="8.9" fill="#b0e2b0" opacity="0.45"/>
<circle cx="168.80" cy="187.50" r="7.3" fill="#b0e2b0"/>
<circle cx="168.80" cy="187.50" r="6.1" fill="#2d6a2d"/>
<path d="M184.75,187.50A10.3,10.3 0 0 1 205.35,187.50Z" fill="#c3c3c3"/>
<path d="M184.75,187.50A10.3,10.3 0 0 0 205.35,187.50Z" fill="#e7e7e7"/>
<circle cx="195.05" cy="187.50" r="8.9" fill="#b0e2b0" opacity="0.45"/>
<circle cx="195.05" cy="187.50" r="7.3" fill="#b0e2b0"/>
<circle cx="195.05" cy="187.50" r="6.1" fill="#2d6a2d"/>
<path d="M211.00,187.50A10.3,10.3 0 0 1 231.60,187.50Z" fill="#c3c3c3"/>
<path d="M211.00,187.50A10.3,10.3 0 0 0 231.60,187.50Z" fill="#e7e7e7"/>
<circle cx="221.30" cy="187.50" r="8.9" fill="#b0e2b0" opacity="0.45"/>
<circle cx="221.30" cy="187.50" r="7.3" fill="#b0e2b0"/>
<circle cx="221.30" cy="187.50" r="6.1" fill="#2d6a2d"/>
<path d="M237.25,187.50A10.3,10.3 0 0 1 257.85,187.50Z" fill="#c3c3c3"/>
<path d="M237.25,187.50A10.3,10.3 0 0 0 257.85,187.50Z" fill="#e7e7e7"/>
<circle cx="247.55" cy="187.50" r="8.9" fill="#b0e2b0" opacity="0.45"/>
<circle cx="247.55" cy="187.50" r="7.3" fill="#b0e2b0"/>
<circle cx="247.55" cy="187.50" r="6.1" fill="#2d6a2d"/>
<path d="M263.50,187.50A10.3,10.3 0 0 1 284.10,187.50Z" fill="#c3c3c3"/>
<path d="M263.50,187.50A10.3,10.3 0 0 0 284.10,187.50Z" fill="#e7e7e7"/>
<circle cx="273.80" cy="187.50" r="8.9" fill="#b0e2b0" opacity="0.45"/>
<circle cx="273.80" cy="187.50" r="7.3" fill="#b0e2b0"/>
<circle cx="273.80" cy="187.50" r="6.1" fill="#2d6a2d"/>
<path d="M316.00,187.50A10.3,10.3 0 0 1 336.60,187.50Z" fill="#c3c3c3"/>
<path d="M316.00,187.50A10.3,10.3 0 0 0 336.60,187.50Z" fill="#e7e7e7"/>
<circle cx="326.30" cy="187.50" r="8.9" fill="#b0e2b0" opacity="0.45"/>
<circle cx="326.30" cy="187.50" r="7.3" fill="#b0e2b0"/>
<circle cx="326.30" cy="187.50" r="6.1" fill="#2d6a2d"/>
<path d="M342.25,187.50A10.3,10.3 0 0 1 362.85,187.50Z" fill="#c3c3c3"/>
<path d="M342.25,187.50A10.3,10.3 0 0 0 362.85,187.50Z" fill="#e7e7e7"/>
<circle cx="352.55" cy="187.50" r="8.9" fill="#b0e2b0" opacity="0.45"/>
<circle cx="352.55" cy="187.50" r="7.3" fill="#b0e2b0"/>
<circle cx="352.55" cy="187.50" r="6.1" fill="#2d6a2d"/>
<path d="M368.50,187.50A10.3,10.3 0 0 1 389.10,187.50Z" fill="#c3c3c3"/>
<path d="M368.50,187.50A10.3,10.3 0 0 0 389.10,187.50Z" fill="#e7e7e7"/>
<circle cx="378.80" cy="187.50" r="8.9" fill="#b0e2b0" opacity="0.45"/>
<circle cx="378.80" cy="187.50" r="7.3" fill="#b0e2b0"/>
<circle cx="378.80" cy="187.50" r="6.1" fill="#2d6a2d"/>
<path d="M394.75,187.50A10.3,10.3 0 0 1 415.35,187.50Z" fill="#c3c3c3"/>
<path d="M394.75,187.50A10.3,10.3 0 0 0 415.35,187.50Z" fill="#e7e7e7"/>
<circle cx="405.05" cy="187.50" r="8.9" fill="#b0e2b0" opacity="0.45"/>
<circle cx="405.05" cy="187.50" r="7.3" fill="#b0e2b0"/>
<circle cx="405.05" cy="187.50" r="6.1" fill="#2d6a2d"/>
<path d="M421.00,187.50A10.3,10.3 0 0 1 441.60,187.50Z" fill="#c3c3c3"/>
<path d="M421.00,187.50A10.3,10.3 0 0 0 441.60,187.50Z" fill="#e7e7e7"/>
<circle cx="431.30" cy="187.50" r="8.9" fill="#b0e2b0" opacity="0.45"/>
<circle cx="431.30" cy="187.50" r="7.3" fill="#b0e2b0"/>
<circle cx="431.30" cy="187.50" r="6.1" fill="#2d6a2d"/>
<path d="M473.50,187.50A10.3,10.3 0 0 1 494.10,187.50Z" fill="#c3c3c3"/>
<path d="M473.50,187.50A10.3,10.3 0 0 0 494.10,187.50Z" fill="#e7e7e7"/>
<circle cx="483.80" cy="187.50" r="8.9" fill="#b0e2b0" opacity="0.45"/>
<circle cx="483.80" cy="187.50" r="7.3" fill="#b0e2b0"/>
<circle cx="483.80" cy="187.50" r="6.1" fill="#2d6a2d"/>
<path d="M499.75,187.50A10.3,10.3 0 0 1 520.35,187.50Z" fill="#c3c3c3"/>
<path d="M499.75,187.50A10.3,10.3 0 0 0 520.35,187.50Z" fill="#e7e7e7"/>
<circle cx="510.05" cy="187.50" r="8.9" fill="#b0e2b0" opacity="0.45"/>
<circle cx="510.05" cy="187.50" r="7.3" fill="#b0e2b0"/>
<circle cx="510.05" cy="187.50" r="6.1" fill="#2d6a2d"/>
<path d="M526.00,187.50A10.3,10.3 0 0 1 546.60,187.50Z" fill="#c3c3c3"/>
<path d="M526.00,187.50A10.3,10.3 0 0 0 546.60,187.50Z" fill="#e7e7e7"/>
<circle cx="536.30" cy="187.50" r="8.9" fill="#b0e2b0" opacity="0.45"/>
<circle cx="536.30" cy="187.50" r="7.3" fill="#b0e2b0"/>
<circle cx="536.30" cy="187.50" r="6.1" fill="#2d6a2d"/>
<path d="M552.25,187.50A10.3,10.3 0 0 1 572.85,187.50Z" fill="#c3c3c3"/>
<path d="M552.25,187.50A10.3,10.3 0 0 0 572.85,187.50Z" fill="#e7e7e7"/>
<circle cx="562.55" cy="187.50" r="8.9" fill="#b0e2b0" opacity="0.45"/>
<circle cx="562.55" cy="187.50" r="7.3" fill="#b0e2b0"/>
<circle cx="562.55" cy="187.50" r="6.1" fill="#2d6a2d"/>
<path d="M578.50,187.50A10.3,10.3 0 0 1 599.10,187.50Z" fill="#c3c3c3"/>
<path d="M578.50,187.50A10.3,10.3 0 0 0 599.10,187.50Z" fill="#e7e7e7"/>
<circle cx="588.80" cy="187.50" r="8.9" fill="#b0e2b0" opacity="0.45"/>
<circle cx="588.80" cy="187.50" r="7.3" fill="#b0e2b0"/>
<circle cx="588.80" cy="187.50" r="6.1" fill="#2d6a2d"/>
<path d="M631.00,187.50A10.3,10.3 0 0 1 651.60,187.50Z" fill="#c3c3c3"/>
<path d="M631.00,187.50A10.3,10.3 0 0 0 651.60,187.50Z" fill="#e7e7e7"/>
<circle cx="641.30" cy="187.50" r="8.9" fill="#b0e2b0" opacity="0.45"/>
<circle cx="641.30" cy="187.50" r="7.3" fill="#b0e2b0"/>
<circle cx="641.30" cy="187.50" r="6.1" fill="#2d6a2d"/>
<path d="M657.25,187.50A10.3,10.3 0 0 1 677.85,187.50Z" fill="#c3c3c3"/>
<path d="M657.25,187.50A10.3,10.3 0 0 0 677.85,187.50Z" fill="#e7e7e7"/>
<circle cx="667.55" cy="187.50" r="8.9" fill="#b0e2b0" opacity="0.45"/>
<circle cx="667.55" cy="187.50" r="7.3" fill="#b0e2b0"/>
<circle cx="667.55" cy="187.50" r="6.1" fill="#2d6a2d"/>
<path d="M683.50,187.50A10.3,10.3 0 0 1 704.10,187.50Z" fill="#c3c3c3"/>
<path d="M683.50,187.50A10.3,10.3 0 0 0 704.10,187.50Z" fill="#e7e7e7"/>
<circle cx="693.80" cy="187.50" r="8.9" fill="#b0e2b0" opacity="0.45"/>
<circle cx="693.80" cy="187.50" r="7.3" fill="#b0e2b0"/>
<circle cx="693.80" cy="187.50" r="6.1" fill="#2d6a2d"/>
<path d="M709.75,187.50A10.3,10.3 0 0 1 730.35,187.50Z" fill="#c3c3c3"/>
<path d="M709.75,187.50A10.3,10.3 0 0 0 730.35,187.50Z" fill="#e7e7e7"/>
<circle cx="720.05" cy="187.50" r="8.9" fill="#b0e2b0" opacity="0.45"/>
<circle cx="720.05" cy="187.50" r="7.3" fill="#b0e2b0"/>
<circle cx="720.05" cy="187.50" r="6.1" fill="#2d6a2d"/>
<path d="M736.00,187.50A10.3,10.3 0 0 1 756.60,187.50Z" fill="#c3c3c3"/>
<path d="M736.00,187.50A10.3,10.3 0 0 0 756.60,187.50Z" fill="#e7e7e7"/>
<circle cx="746.30" cy="187.50" r="8.9" fill="#b0e2b0" opacity="0.45"/>
<circle cx="746.30" cy="187.50" r="7.3" fill="#b0e2b0"/>
<circle cx="746.30" cy="187.50" r="6.1" fill="#2d6a2d"/>
<path d="M158.50,580.60A10.3,10.3 0 0 1 179.10,580.60Z" fill="#c3c3c3"/>
<path d="M158.50,580.60A10.3,10.3 0 0 0 179.10,580.60Z" fill="#e7e7e7"/>
<circle cx="168.80" cy="580.60" r="8.9" fill="#b0e2b0" opacity="0.45"/>
<circle cx="168.80" cy="580.60" r="7.3" fill="#b0e2b0"/>
<circle cx="168.80" cy="580.60" r="6.1" fill="#2d6a2d"/>
<path d="M184.75,580.60A10.3,10.3 0 0 1 205.35,580.60Z" fill="#c3c3c3"/>
<path d="M184.75,580.60A10.3,10.3 0 0 0 205.35,580.60Z" fill="#e7e7e7"/>
<circle cx="195.05" cy="580.60" r="8.9" fill="#b0e2b0" opacity="0.45"/>
<circle cx="195.05" cy="580.60" r="7.3" fill="#b0e2b0"/>
<circle cx="195.05" cy="580.60" r="6.1" fill="#2d6a2d"/>
<path d="M211.00,580.60A10.3,10.3 0 0 1 231.60,580.60Z" fill="#c3c3c3"/>
<path d="M211.00,580.60A10.3,10.3 0 0 0 231.60,580.60Z" fill="#e7e7e7"/>
<circle cx="221.30" cy="580.60" r="8.9" fill="#b0e2b0" opacity="0.45"/>
<circle cx="221.30" cy="580.60" r="7.3" fill="#b0e2b0"/>
<circle cx="221.30" cy="580.60" r="6.1" fill="#2d6a2d"/>
<path d="M237.25,580.60A10.3,10.3 0 0 1 257.85,580.60Z" fill="#c3c3c3"/>
<path d="M237.25,580.60A10.3,10.3 0 0 0 257.85,580.60Z" fill="#e7e7e7"/>
<circle cx="247.55" cy="580.60" r="8.9" fill="#b0e2b0" opacity="0.45"/>
<circle cx="247.55" cy="580.60" r="7.3" fill="#b0e2b0"/>
<circle cx="247.55" cy="580.60" r="6.1" fill="#2d6a2d"/>
<path d="M263.50,580.60A10.3,10.3 0 0 1 284.10,580.60Z" fill="#c3c3c3"/>
<path d="M263.50,580.60A10.3,10.3 0 0 0 284.10,580.60Z" fill="#e7e7e7"/>
<circle cx="273.80" cy="580.60" r="8.9" fill="#b0e2b0" opacity="0.45"/>
<circle cx="273.80" cy="580.60" r="7.3" fill="#b0e2b0"/>
<circle cx="273.80" cy="580.60" r="6.1" fill="#2d6a2d"/>
<path d="M316.00,580.60A10.3,10.3 0 0 1 336.60,580.60Z" fill="#c3c3c3"/>
<path d="M316.00,580.60A10.3,10.3 0 0 0 336.60,580.60Z" fill="#e7e7e7"/>
<circle cx="326.30" cy="580.60" r="8.9" fill="#b0e2b0" opacity="0.45"/>
<circle cx="326.30" cy="580.60" r="7.3" fill="#b0e2b0"/>
<circle cx="326.30" cy="580.60" r="6.1" fill="#2d6a2d"/>
<path d="M342.25,580.60A10.3,10.3 0 0 1 362.85,580.60Z" fill="#c3c3c3"/>
<path d="M342.25,580.60A10.3,10.3 0 0 0 362.85,580.60Z" fill="#e7e7e7"/>
<circle cx="352.55" cy="580.60" r="8.9" fill="#b0e2b0" opacity="0.45"/>
<circle cx="352.55" cy="580.60" r="7.3" fill="#b0e2b0"/>
<circle cx="352.55" cy="580.60" r="6.1" fill="#2d6a2d"/>
<path d="M368.50,580.60A10.3,10.3 0 0 1 389.10,580.60Z" fill="#c3c3c3"/>
<path d="M368.50,580.60A10.3,10.3 0 0 0 389.10,580.60Z" fill="#e7e7e7"/>
<circle cx="378.80" cy="580.60" r="8.9" fill="#b0e2b0" opacity="0.45"/>
<circle cx="378.80" cy="580.60" r="7.3" fill="#b0e2b0"/>
<circle cx="378.80" cy="580.60" r="6.1" fill="#2d6a2d"/>
<path d="M394.75,580.60A10.3,10.3 0 0 1 415.35,580.60Z" fill="#c3c3c3"/>
<path d="M394.75,580.60A10.3,10.3 0 0 0 415.35,580.60Z" fill="#e7e7e7"/>
<circle cx="405.05" cy="580.60" r="8.9" fill="#b0e2b0" opacity="0.45"/>
<circle cx="405.05" cy="580.60" r="7.3" fill="#b0e2b0"/>
<circle cx="405.05" cy="580.60" r="6.1" fill="#2d6a2d"/>
<path d="M421.00,580.60A10.3,10.3 0 0 1 441.60,580.60Z" fill="#c3c3c3"/>
<path d="M421.00,580.60A10.3,10.3 0 0 0 441.60,580.60Z" fill="#e7e7e7"/>
<circle cx="431.30" cy="580.60" r="8.9" fill="#b0e2b0" opacity="0.45"/>
<circle cx="431.30" cy="580.60" r="7.3" fill="#b0e2b0"/>
<circle cx="431.30" cy="580.60" r="6.1" fill="#2d6a2d"/>
<path d="M473.50,580.60A10.3,10.3 0 0 1 494.10,580.60Z" fill="#c3c3c3"/>
<path d="M473.50,580.60A10.3,10.3 0 0 0 494.10,580.60Z" fill="#e7e7e7"/>
<circle cx="483.80" cy="580.60" r="8.9" fill="#b0e2b0" opacity="0.45"/>
<circle cx="483.80" cy="580.60" r="7.3" fill="#b0e2b0"/>
<circle cx="483.80" cy="580.60" r="6.1" fill="#2d6a2d"/>
<path d="M499.75,580.60A10.3,10.3 0 0 1 520.35,580.60Z" fill="#c3c3c3"/>
<path d="M499.75,580.60A10.3,10.3 0 0 0 520.35,580.60Z" fill="#e7e7e7"/>
<circle cx="510.05" cy="580.60" r="8.9" fill="#b0e2b0" opacity="0.45"/>
<circle cx="510.05" cy="580.60" r="7.3" fill="#b0e2b0"/>
<circle cx="510.05" cy="580.60" r="6.1" fill="#2d6a2d"/>
<path d="M526.00,580.60A10.3,10.3 0 0 1 546.60,580.60Z" fill="#c3c3c3"/>
<path d="M526.00,580.60A10.3,10.3 0 0 0 546.60,580.60Z" fill="#e7e7e7"/>
<circle cx="536.30" cy="580.60" r="8.9" fill="#b0e2b0" opacity="0.45"/>
<circle cx="536.30" cy="580.60" r="7.3" fill="#b0e2b0"/>
<circle cx="536.30" cy="580.60" r="6.1" fill="#2d6a2d"/>
<path d="M552.25,580.60A10.3,10.3 0 0 1 572.85,580.60Z" fill="#c3c3c3"/>
<path d="M552.25,580.60A10.3,10.3 0 0 0 572.85,580.60Z" fill="#e7e7e7"/>
<circle cx="562.55" cy="580.60" r="8.9" fill="#b0e2b0" opacity="0.45"/>
<circle cx="562.55" cy="580.60" r="7.3" fill="#b0e2b0"/>
<circle cx="562.55" cy="580.60" r="6.1" fill="#2d6a2d"/>
<path d="M578.50,580.60A10.3,10.3 0 0 1 599.10,580.60Z" fill="#c3c3c3"/>
<path d="M578.50,580.60A10.3,10.3 0 0 0 599.10,580.60Z" fill="#e7e7e7"/>
<circle cx="588.80" cy="580.60" r="8.9" fill="#b0e2b0" opacity="0.45"/>
<circle cx="588.80" cy="580.60" r="7.3" fill="#b0e2b0"/>
<circle cx="588.80" cy="580.60" r="6.1" fill="#2d6a2d"/>
<path d="M631.00,580.60A10.3,10.3 0 0 1 651.60,580.60Z" fill="#c3c3c3"/>
<path d="M631.00,580.60A10.3,10.3 0 0 0 651.60,580.60Z" fill="#e7e7e7"/>
<circle cx="641.30" cy="580.60" r="8.9" fill="#b0e2b0" opacity="0.45"/>
<circle cx="641.30" cy="580.60" r="7.3" fill="#b0e2b0"/>
<circle cx="641.30" cy="580.60" r="6.1" fill="#2d6a2d"/>
<path d="M657.25,580.60A10.3,10.3 0 0 1 677.85,580.60Z" fill="#c3c3c3"/>
<path d="M657.25,580.60A10.3,10.3 0 0 0 677.85,580.60Z" fill="#e7e7e7"/>
<circle cx="667.55" cy="580.60" r="8.9" fill="#b0e2b0" opacity="0.45"/>
<circle cx="667.55" cy="580.60" r="7.3" fill="#b0e2b0"/>
<circle cx="667.55" cy="580.60" r="6.1" fill="#2d6a2d"/>
<path d="M683.50,580.60A10.3,10.3 0 0 1 704.10,580.60Z" fill="#c3c3c3"/>
<path d="M683.50,580.60A10.3,10.3 0 0 0 704.10,580.60Z" fill="#e7e7e7"/>
<circle cx="693.80" cy="580.60" r="8.9" fill="#b0e2b0" opacity="0.45"/>
<circle cx="693.80" cy="580.60" r="7.3" fill="#b0e2b0"/>
<circle cx="693.80" cy="580.60" r="6.1" fill="#2d6a2d"/>
<path d="M709.75,580.60A10.3,10.3 0 0 1 730.35,580.60Z" fill="#c3c3c3"/>
<path d="M709.75,580.60A10.3,10.3 0 0 0 730.35,580.60Z" fill="#e7e7e7"/>
<circle cx="720.05" cy="580.60" r="8.9" fill="#b0e2b0" opacity="0.45"/>
<circle cx="720.05" cy="580.60" r="7.3" fill="#b0e2b0"/>
<circle cx="720.05" cy="580.60" r="6.1" fill="#2d6a2d"/>
<path d="M736.00,580.60A10.3,10.3 0 0 1 756.60,580.60Z" fill="#c3c3c3"/>
<path d="M736.00,580.60A10.3,10.3 0 0 0 756.60,580.60Z" fill="#e7e7e7"/>
<circle cx="746.30" cy="580.60" r="8.9" fill="#b0e2b0" opacity="0.45"/>
<circle cx="746.30" cy="580.60" r="7.3" fill="#b0e2b0"/>
<circle cx="746.30" cy="580.60" r="6.1" fill="#2d6a2d"/>
<g font-family="Liberation Sans, sans-serif" font-size="16.5" fill="#b4b4b4" stroke="#b4b4b4" stroke-width="0.4" text-anchor="middle">
<text x="150" y="193.50">X</text>
<text x="771" y="193.50">X</text>
<text x="150" y="245.50">A</text>
<text x="771" y="245.50">A</text>
<text x="150" y="271.75">B</text>
<text x="771" y="271.75">B</text>
<text x="150" y="298.00">C</text>
<text x="771" y="298.00">C</text>
<text x="150" y="324.25">D</text>
<text x="771" y="324.25">D</text>
<text x="150" y="350.50">E</text>
<text x="771" y="350.50">E</text>
<text x="150" y="429.40">F</text>
<text x="771" y="429.40">F</text>
<text x="150" y="455.80">G</text>
<text x="771" y="455.80">G</text>
<text x="150" y="482.00">H</text>
<text x="771" y="482.00">H</text>
<text x="150" y="508.10">I</text>
<text x="771" y="508.10">I</text>
<text x="150" y="534.30">J</text>
<text x="771" y="534.30">J</text>
<text x="150" y="586.60">Y</text>
<text x="771" y="586.60">Y</text>
<text x="169.80" y="222.4">1</text>
<text x="169.80" y="554.2">1</text>
<text x="274.80" y="222.4">5</text>
<text x="274.80" y="554.2">5</text>
<text x="406.05" y="222.4">10</text>
<text x="406.05" y="554.2">10</text>
<text x="537.30" y="222.4">15</text>
<text x="537.30" y="554.2">15</text>
<text x="668.55" y="222.4">20</text>
<text x="668.55" y="554.2">20</text>
</g>
<rect x="641.30" y="182.30" width="9.77" height="10.4" fill="#6fb06f" opacity="0.92"/>
<rect x="714.07" y="182.30" width="5.98" height="10.4" fill="#6fb06f" opacity="0.92"/>
<rect x="641.30" y="234.30" width="9.77" height="10.4" fill="#6fb06f" opacity="0.92"/>
<rect x="714.07" y="234.30" width="5.98" height="10.4" fill="#6fb06f" opacity="0.92"/>
<rect x="650.57" y="181.80" width="64" height="64" fill="#202020"/>
<rect x="650.57" y="183.80" width="64" height="60" fill="#8e8e8e"/>
<rect x="652.57" y="181.80" width="60" height="64" fill="#8e8e8e"/>
<rect x="651.57" y="182.80" width="62" height="62" fill="#a3a3a3"/>
<circle cx="659.57" cy="190.80" r="5.6" fill="#050505"/>
<path d="M660.07,187.60 l2.6,2.8 l-2.8,0.2z" fill="#cfcfcf"/>
<circle cx="659.57" cy="236.80" r="5.6" fill="#050505"/>
<path d="M660.07,233.60 l2.6,2.8 l-2.8,0.2z" fill="#cfcfcf"/>
<circle cx="705.57" cy="190.80" r="5.6" fill="#050505"/>
<path d="M706.07,187.60 l2.6,2.8 l-2.8,0.2z" fill="#cfcfcf"/>
<circle cx="705.57" cy="236.80" r="5.6" fill="#050505"/>
<path d="M706.07,233.60 l2.6,2.8 l-2.8,0.2z" fill="#cfcfcf"/>
<circle cx="682.57" cy="213.80" r="18.6" fill="#2e2e2e"/>
<circle cx="682.57" cy="213.80" r="16.2" fill="#7a5648"/>
<path d="M692.57,201.80 A15.5,15.5 0 0 1 694.57,223.80" fill="none" stroke="#d9b8a8" stroke-width="1.2"/>
<rect x="195.05" y="523.10" width="9.78" height="10.4" fill="#6fb06f" opacity="0.92"/>
<rect x="267.83" y="523.10" width="5.97" height="10.4" fill="#6fb06f" opacity="0.92"/>
<rect x="195.05" y="575.40" width="9.78" height="10.4" fill="#6fb06f" opacity="0.92"/>
<rect x="267.83" y="575.40" width="5.97" height="10.4" fill="#6fb06f" opacity="0.92"/>
<rect x="204.33" y="522.75" width="64" height="64" fill="#202020"/>
<rect x="204.33" y="524.75" width="64" height="60" fill="#8e8e8e"/>
<rect x="206.33" y="522.75" width="60" height="64" fill="#8e8e8e"/>
<rect x="205.33" y="523.75" width="62" height="62" fill="#a3a3a3"/>
<circle cx="213.33" cy="531.75" r="5.6" fill="#050505"/>
<path d="M213.83,528.55 l2.6,2.8 l-2.8,0.2z" fill="#cfcfcf"/>
<circle cx="213.33" cy="577.75" r="5.6" fill="#050505"/>
<path d="M213.83,574.55 l2.6,2.8 l-2.8,0.2z" fill="#cfcfcf"/>
<circle cx="259.33" cy="531.75" r="5.6" fill="#050505"/>
<path d="M259.83,528.55 l2.6,2.8 l-2.8,0.2z" fill="#cfcfcf"/>
<circle cx="259.33" cy="577.75" r="5.6" fill="#050505"/>
<path d="M259.83,574.55 l2.6,2.8 l-2.8,0.2z" fill="#cfcfcf"/>
<circle cx="236.33" cy="554.75" r="18.6" fill="#2e2e2e"/>
<circle cx="236.33" cy="554.75" r="16.2" fill="#7a5648"/>
<path d="M246.33,542.75 A15.5,15.5 0 0 1 248.33,564.75" fill="none" stroke="#d9b8a8" stroke-width="1.2"/>
<rect x="326.30" y="523.10" width="9.77" height="10.4" fill="#6fb06f" opacity="0.92"/>
<rect x="399.07" y="523.10" width="5.98" height="10.4" fill="#6fb06f" opacity="0.92"/>
<rect x="326.30" y="575.40" width="9.77" height="10.4" fill="#6fb06f" opacity="0.92"/>
<rect x="399.07" y="575.40" width="5.98" height="10.4" fill="#6fb06f" opacity="0.92"/>
<rect x="335.57" y="522.75" width="64" height="64" fill="#202020"/>
<rect x="335.57" y="524.75" width="64" height="60" fill="#8e8e8e"/>
<rect x="337.57" y="522.75" width="60" height="64" fill="#8e8e8e"/>
<rect x="336.57" y="523.75" width="62" height="62" fill="#a3a3a3"/>
<circle cx="344.57" cy="531.75" r="5.6" fill="#050505"/>
<path d="M345.07,528.55 l2.6,2.8 l-2.8,0.2z" fill="#cfcfcf"/>
<circle cx="344.57" cy="577.75" r="5.6" fill="#050505"/>
<path d="M345.07,574.55 l2.6,2.8 l-2.8,0.2z" fill="#cfcfcf"/>
<circle cx="390.57" cy="531.75" r="5.6" fill="#050505"/>
<path d="M391.07,528.55 l2.6,2.8 l-2.8,0.2z" fill="#cfcfcf"/>
<circle cx="390.57" cy="577.75" r="5.6" fill="#050505"/>
<path d="M391.07,574.55 l2.6,2.8 l-2.8,0.2z" fill="#cfcfcf"/>
<circle cx="367.57" cy="554.75" r="18.6" fill="#2e2e2e"/>
<circle cx="367.57" cy="554.75" r="16.2" fill="#7a5648"/>
<path d="M377.57,542.75 A15.5,15.5 0 0 1 379.57,564.75" fill="none" stroke="#d9b8a8" stroke-width="1.2"/>
<rect x="431.30" y="523.10" width="9.77" height="10.4" fill="#6fb06f" opacity="0.92"/>
<rect x="504.07" y="523.10" width="5.98" height="10.4" fill="#6fb06f" opacity="0.92"/>
<rect x="431.30" y="575.40" width="9.77" height="10.4" fill="#6fb06f" opacity="0.92"/>
<rect x="504.07" y="575.40" width="5.98" height="10.4" fill="#6fb06f" opacity="0.92"/>
<rect x="440.57" y="522.75" width="64" height="64" fill="#202020"/>
<rect x="440.57" y="524.75" width="64" height="60" fill="#8e8e8e"/>
<rect x="442.57" y="522.75" width="60" height="64" fill="#8e8e8e"/>
<rect x="441.57" y="523.75" width="62" height="62" fill="#a3a3a3"/>
<circle cx="449.57" cy="531.75" r="5.6" fill="#050505"/>
<path d="M450.07,528.55 l2.6,2.8 l-2.8,0.2z" fill="#cfcfcf"/>
<circle cx="449.57" cy="577.75" r="5.6" fill="#050505"/>
<path d="M450.07,574.55 l2.6,2.8 l-2.8,0.2z" fill="#cfcfcf"/>
<circle cx="495.57" cy="531.75" r="5.6" fill="#050505"/>
<path d="M496.07,528.55 l2.6,2.8 l-2.8,0.2z" fill="#cfcfcf"/>
<circle cx="495.57" cy="577.75" r="5.6" fill="#050505"/>
<path d="M496.07,574.55 l2.6,2.8 l-2.8,0.2z" fill="#cfcfcf"/>
<circle cx="472.57" cy="554.75" r="18.6" fill="#2e2e2e"/>
<circle cx="472.57" cy="554.75" r="16.2" fill="#7a5648"/>
<path d="M482.57,542.75 A15.5,15.5 0 0 1 484.57,564.75" fill="none" stroke="#d9b8a8" stroke-width="1.2"/>
<rect x="641.30" y="523.10" width="9.77" height="10.4" fill="#6fb06f" opacity="0.92"/>
<rect x="714.07" y="523.10" width="5.98" height="10.4" fill="#6fb06f" opacity="0.92"/>
<rect x="641.30" y="575.40" width="9.77" height="10.4" fill="#6fb06f" opacity="0.92"/>
<rect x="714.07" y="575.40" width="5.98" height="10.4" fill="#6fb06f" opacity="0.92"/>
<rect x="650.57" y="522.75" width="64" height="64" fill="#202020"/>
<rect x="650.57" y="524.75" width="64" height="60" fill="#8e8e8e"/>
<rect x="652.57" y="522.75" width="60" height="64" fill="#8e8e8e"/>
<rect x="651.57" y="523.75" width="62" height="62" fill="#a3a3a3"/>
<circle cx="659.57" cy="531.75" r="5.6" fill="#050505"/>
<path d="M660.07,528.55 l2.6,2.8 l-2.8,0.2z" fill="#cfcfcf"/>
<circle cx="659.57" cy="577.75" r="5.6" fill="#050505"/>
<path d="M660.07,574.55 l2.6,2.8 l-2.8,0.2z" fill="#cfcfcf"/>
<circle cx="705.57" cy="531.75" r="5.6" fill="#050505"/>
<path d="M706.07,528.55 l2.6,2.8 l-2.8,0.2z" fill="#cfcfcf"/>
<circle cx="705.57" cy="577.75" r="5.6" fill="#050505"/>
<path d="M706.07,574.55 l2.6,2.8 l-2.8,0.2z" fill="#cfcfcf"/>
<circle cx="682.57" cy="554.75" r="18.6" fill="#2e2e2e"/>
<circle cx="682.57" cy="554.75" r="16.2" fill="#7a5648"/>
<path d="M692.57,542.75 A15.5,15.5 0 0 1 694.57,564.75" fill="none" stroke="#d9b8a8" stroke-width="1.2"/>
<rect x="339" y="346.5" width="238" height="74" fill="#313131"/>
<rect x="339" y="347.3" width="238" height="7" fill="#383838"/>
<rect x="339" y="412.5" width="238" height="8.3" fill="#161616"/>
<rect x="339" y="354" width="238" height="1.5" fill="#2a2a2a"/>
<rect x="339" y="411" width="238" height="1.5" fill="#2a2a2a"/>
<rect x="574" y="346.5" width="3" height="74" fill="#171717"/>
<rect x="344.05" y="346.5" width="17" height="7.5" fill="#8c8c8c"/>
<rect x="344.05" y="412.5" width="17" height="8.0" fill="#8c8c8c"/>
<path d="M346.75,354 L346.75,344.50 A5.8,5.8 0 0 1 358.35,344.50 L358.35,354Z" fill="#6aaa6a"/>
<path d="M346.75,412.5 L346.75,423.40 A5.8,5.8 0 0 0 358.35,423.40 L358.35,412.5Z" fill="#6aaa6a"/>
<rect x="370.30" y="346.5" width="17" height="7.5" fill="#8c8c8c"/>
<rect x="370.30" y="412.5" width="17" height="8.0" fill="#8c8c8c"/>
<path d="M373.00,354 L373.00,344.50 A5.8,5.8 0 0 1 384.60,344.50 L384.60,354Z" fill="#6aaa6a"/>
<path d="M373.00,412.5 L373.00,423.40 A5.8,5.8 0 0 0 384.60,423.40 L384.60,412.5Z" fill="#6aaa6a"/>
<rect x="396.55" y="346.5" width="17" height="7.5" fill="#8c8c8c"/>
<rect x="396.55" y="412.5" width="17" height="8.0" fill="#8c8c8c"/>
<path d="M399.25,354 L399.25,344.50 A5.8,5.8 0 0 1 410.85,344.50 L410.85,354Z" fill="#6aaa6a"/>
<path d="M399.25,412.5 L399.25,423.40 A5.8,5.8 0 0 0 410.85,423.40 L410.85,412.5Z" fill="#6aaa6a"/>
<rect x="422.80" y="346.5" width="17" height="7.5" fill="#8c8c8c"/>
<rect x="422.80" y="412.5" width="17" height="8.0" fill="#8c8c8c"/>
<path d="M425.50,354 L425.50,344.50 A5.8,5.8 0 0 1 437.10,344.50 L437.10,354Z" fill="#6aaa6a"/>
<path d="M425.50,412.5 L425.50,423.40 A5.8,5.8 0 0 0 437.10,423.40 L437.10,412.5Z" fill="#6aaa6a"/>
<rect x="449.05" y="346.5" width="17" height="7.5" fill="#8c8c8c"/>
<rect x="449.05" y="412.5" width="17" height="8.0" fill="#8c8c8c"/>
<path d="M451.75,354 L451.75,344.50 A5.8,5.8 0 0 1 463.35,344.50 L463.35,354Z" fill="#6aaa6a"/>
<path d="M451.75,412.5 L451.75,423.40 A5.8,5.8 0 0 0 463.35,423.40 L463.35,412.5Z" fill="#6aaa6a"/>
<rect x="475.30" y="346.5" width="17" height="7.5" fill="#8c8c8c"/>
<rect x="475.30" y="412.5" width="17" height="8.0" fill="#8c8c8c"/>
<path d="M478.00,354 L478.00,344.50 A5.8,5.8 0 0 1 489.60,344.50 L489.60,354Z" fill="#6aaa6a"/>
<path d="M478.00,412.5 L478.00,423.40 A5.8,5.8 0 0 0 489.60,423.40 L489.60,412.5Z" fill="#6aaa6a"/>
<rect x="501.55" y="346.5" width="17" height="7.5" fill="#8c8c8c"/>
<rect x="501.55" y="412.5" width="17" height="8.0" fill="#8c8c8c"/>
<path d="M504.25,354 L504.25,344.50 A5.8,5.8 0 0 1 515.85,344.50 L515.85,354Z" fill="#6aaa6a"/>
<path d="M504.25,412.5 L504.25,423.40 A5.8,5.8 0 0 0 515.85,423.40 L515.85,412.5Z" fill="#6aaa6a"/>
<rect x="527.80" y="346.5" width="17" height="7.5" fill="#8c8c8c"/>
<rect x="527.80" y="412.5" width="17" height="8.0" fill="#8c8c8c"/>
<path d="M530.50,354 L530.50,344.50 A5.8,5.8 0 0 1 542.10,344.50 L542.10,354Z" fill="#6aaa6a"/>
<path d="M530.50,412.5 L530.50,423.40 A5.8,5.8 0 0 0 542.10,423.40 L542.10,412.5Z" fill="#6aaa6a"/>
<rect x="554.05" y="346.5" width="17" height="7.5" fill="#8c8c8c"/>
<rect x="554.05" y="412.5" width="17" height="8.0" fill="#8c8c8c"/>
<path d="M556.75,354 L556.75,344.50 A5.8,5.8 0 0 1 568.35,344.50 L568.35,354Z" fill="#6aaa6a"/>
<path d="M556.75,412.5 L556.75,423.40 A5.8,5.8 0 0 0 568.35,423.40 L568.35,412.5Z" fill="#6aaa6a"/>
<path d="M339,371 A11,11 0 0 1 339,393Z" fill="#262626"/>
<circle cx="357" cy="402" r="6.5" fill="#2a2a2a"/>
<path d="M360.2,368.5 V383.8 M368.9,368.5 V383.8 M360.2,377.2 H368.9 M374.5,368.8 H385.2 M379.9,368.8 V383.8 M391,368.5 V378.2 H399.8 M397,370 V383.8 M405.8,368.5 V383.6 H413.8 V375.2 H405.8 M420.8,383.8 V368.8 H428 Q430,368.8 430,371 V375 Q430,377.2 428,377.2 H420.8 M424.5,377.2 L430,383.8 M437.5,368.5 V378.2 H445.5 M443.2,370 V383.8 M451.2,371.5 V368.8 H461 V372.5 L456,379 V383.8" fill="none" stroke="#ececec" stroke-width="2.35" stroke-linecap="round" stroke-linejoin="round"/>
<polyline points="142.90,380.00 142.90,441.00 168.80,580.50" fill="none" stroke="#000000" stroke-width="11.5" stroke-linecap="butt" stroke-linejoin="miter" />
<line x1="163.90" y1="563.28" x2="168.66" y2="580.12" stroke="#8ff08f" stroke-width="12.6" stroke-linecap="round" opacity="0.4"/>
<circle cx="168.80" cy="580.60" r="5.8" fill="#0d5c12"/>
<line x1="163.90" y1="563.28" x2="168.66" y2="580.12" stroke="#00e41c" stroke-width="9.6" stroke-linecap="round"/>
<polyline points="169.20,380.00 169.20,445.30 331.00,445.30" fill="none" stroke="#ff0000" stroke-width="11" stroke-linecap="butt" stroke-linejoin="miter" />
<circle cx="328" cy="445.6" r="6" fill="#c00000"/>
<line x1="336.86" y1="446.37" x2="352.11" y2="449.16" stroke="#8ff08f" stroke-width="14.5" stroke-linecap="round" opacity="0.4"/>
<circle cx="352.60" cy="449.25" r="6.2" fill="#0d5c12"/>
<line x1="336.86" y1="446.37" x2="352.11" y2="449.16" stroke="#00e41c" stroke-width="11.5" stroke-linecap="round"/>
<path d="M25.30,281.8 L55.40,274.6 L55.40,331 L25.30,323Z" fill="#000"/>
<circle cx="32.80" cy="302.4" r="21.8" fill="#000"/>
<circle cx="33.10" cy="302.4" r="6" fill="#e2e2e2"/>
<path d="M286.70,281.8 L257.40,274.6 L257.40,331 L286.70,323Z" fill="#000"/>
<circle cx="279.20" cy="302.4" r="21.8" fill="#000"/>
<circle cx="278.90" cy="302.4" r="6" fill="#e2e2e2"/>
<circle cx="156.4" cy="302.0" r="104.0" fill="#000"/>
<circle cx="156.4" cy="302.0" r="34.2" fill="none" stroke="#5a5a5a" stroke-width="1.0"/>
<circle cx="156.4" cy="302.0" r="42.5" fill="none" stroke="#5a5a5a" stroke-width="1.0"/>
<circle cx="156.4" cy="302.0" r="51.1" fill="none" stroke="#5a5a5a" stroke-width="1.0"/>
<circle cx="156.4" cy="302.0" r="59.6" fill="none" stroke="#5a5a5a" stroke-width="1.0"/>
<circle cx="156.4" cy="302.0" r="68.1" fill="none" stroke="#5a5a5a" stroke-width="1.0"/>
<circle cx="156.4" cy="302.0" r="77.0" fill="none" stroke="#5a5a5a" stroke-width="1.0"/>
<circle cx="156.4" cy="302.4" r="19.7" fill="#d9d9d9"/>
<path d="M60.30,320.68 A97.9,97.9 0 0 1 213.94,222.80" fill="none" stroke="#5c5c5c" stroke-width="6.0" stroke-linecap="round"/>
<path d="M244.76,259.85 A97.9,97.9 0 0 1 113.48,389.99" fill="none" stroke="#3f3f3f" stroke-width="5.6" stroke-linecap="round"/>
<polyline points="273.80,100.00 273.80,125.00" fill="none" stroke="#8c8c8c" stroke-width="10" stroke-linecap="butt" stroke-linejoin="round" />
<polyline points="273.80,118.00 273.80,125.00 326.30,187.50" fill="none" stroke="#8c8c8c" stroke-width="6.6" stroke-linecap="round" stroke-linejoin="round" />
<line x1="316.01" y1="175.25" x2="325.98" y2="187.12" stroke="#8ff08f" stroke-width="11.2" stroke-linecap="round" opacity="0.4"/>
<circle cx="326.30" cy="187.50" r="5.5" fill="#0d5c12"/>
<line x1="316.01" y1="175.25" x2="325.98" y2="187.12" stroke="#00e41c" stroke-width="8.2" stroke-linecap="round"/>
<polyline points="259.30,100.00 259.30,107.00 246.30,122.00" fill="none" stroke="#8c8c8c" stroke-width="10" stroke-linecap="butt" stroke-linejoin="round" />
<polyline points="259.30,106.00 246.30,122.00 352.55,239.50" fill="none" stroke="#8c8c8c" stroke-width="6.6" stroke-linecap="round" stroke-linejoin="round" />
<line x1="341.82" y1="227.63" x2="352.21" y2="239.13" stroke="#8ff08f" stroke-width="11.2" stroke-linecap="round" opacity="0.4"/>
<circle cx="352.55" cy="239.50" r="5.5" fill="#0d5c12"/>
<line x1="341.82" y1="227.63" x2="352.21" y2="239.13" stroke="#00e41c" stroke-width="8.2" stroke-linecap="round"/>
<polyline points="326.30,100.00 326.30,125.00" fill="none" stroke="#8c8c8c" stroke-width="10" stroke-linecap="butt" stroke-linejoin="round" />
<polyline points="326.30,118.00 326.30,125.00 352.55,187.50" fill="none" stroke="#8c8c8c" stroke-width="6.6" stroke-linecap="round" stroke-linejoin="round" />
<line x1="346.35" y1="172.75" x2="352.36" y2="187.04" stroke="#8ff08f" stroke-width="11.2" stroke-linecap="round" opacity="0.4"/>
<circle cx="352.55" cy="187.50" r="5.5" fill="#0d5c12"/>
<line x1="346.35" y1="172.75" x2="352.36" y2="187.04" stroke="#00e41c" stroke-width="8.2" stroke-linecap="round"/>
<polyline points="311.80,100.00 311.80,107.00 298.80,122.00" fill="none" stroke="#8c8c8c" stroke-width="10" stroke-linecap="butt" stroke-linejoin="round" />
<polyline points="311.80,106.00 298.80,122.00 378.80,239.50" fill="none" stroke="#8c8c8c" stroke-width="6.6" stroke-linecap="round" stroke-linejoin="round" />
<line x1="369.80" y1="226.27" x2="378.52" y2="239.09" stroke="#8ff08f" stroke-width="11.2" stroke-linecap="round" opacity="0.4"/>
<circle cx="378.80" cy="239.50" r="5.5" fill="#0d5c12"/>
<line x1="369.80" y1="226.27" x2="378.52" y2="239.09" stroke="#00e41c" stroke-width="8.2" stroke-linecap="round"/>
<polyline points="378.80,100.00 378.80,125.00" fill="none" stroke="#8c8c8c" stroke-width="10" stroke-linecap="butt" stroke-linejoin="round" />
<polyline points="378.80,118.00 378.80,125.00 405.05,187.50" fill="none" stroke="#8c8c8c" stroke-width="6.6" stroke-linecap="round" stroke-linejoin="round" />
<line x1="398.85" y1="172.75" x2="404.86" y2="187.04" stroke="#8ff08f" stroke-width="11.2" stroke-linecap="round" opacity="0.4"/>
<circle cx="405.05" cy="187.50" r="5.5" fill="#0d5c12"/>
<line x1="398.85" y1="172.75" x2="404.86" y2="187.04" stroke="#00e41c" stroke-width="8.2" stroke-linecap="round"/>
<polyline points="364.30,100.00 364.30,107.00 351.30,122.00" fill="none" stroke="#8c8c8c" stroke-width="10" stroke-linecap="butt" stroke-linejoin="round" />
<polyline points="364.30,106.00 351.30,122.00 405.05,239.50" fill="none" stroke="#8c8c8c" stroke-width="6.6" stroke-linecap="round" stroke-linejoin="round" />
<line x1="398.39" y1="224.95" x2="404.84" y2="239.05" stroke="#8ff08f" stroke-width="11.2" stroke-linecap="round" opacity="0.4"/>
<circle cx="405.05" cy="239.50" r="5.5" fill="#0d5c12"/>
<line x1="398.39" y1="224.95" x2="404.84" y2="239.05" stroke="#00e41c" stroke-width="8.2" stroke-linecap="round"/>
<polyline points="431.30,100.00 431.30,125.00" fill="none" stroke="#8c8c8c" stroke-width="10" stroke-linecap="butt" stroke-linejoin="round" />
<polyline points="431.30,118.00 431.30,125.00 431.30,187.50" fill="none" stroke="#8c8c8c" stroke-width="6.6" stroke-linecap="round" stroke-linejoin="round" />
<line x1="431.30" y1="171.50" x2="431.30" y2="187.00" stroke="#8ff08f" stroke-width="11.2" stroke-linecap="round" opacity="0.4"/>
<circle cx="431.30" cy="187.50" r="5.5" fill="#0d5c12"/>
<line x1="431.30" y1="171.50" x2="431.30" y2="187.00" stroke="#00e41c" stroke-width="8.2" stroke-linecap="round"/>
<polyline points="416.80,100.00 416.80,107.00 403.80,122.00" fill="none" stroke="#8c8c8c" stroke-width="10" stroke-linecap="butt" stroke-linejoin="round" />
<polyline points="416.80,106.00 403.80,122.00 431.30,239.50" fill="none" stroke="#8c8c8c" stroke-width="6.6" stroke-linecap="round" stroke-linejoin="round" />
<line x1="427.65" y1="223.92" x2="431.19" y2="239.01" stroke="#8ff08f" stroke-width="11.2" stroke-linecap="round" opacity="0.4"/>
<circle cx="431.30" cy="239.50" r="5.5" fill="#0d5c12"/>
<line x1="427.65" y1="223.92" x2="431.19" y2="239.01" stroke="#00e41c" stroke-width="8.2" stroke-linecap="round"/>
<g transform="translate(238.50,0)">
<path d="M0,43 A26.1,26.1 0 0 1 52.2,43 L52.2,90 Q52.2,104.3 38,104.3 L15.5,104.3 A21,21 0 0 1 0,68.8 Z" fill="#1acf63"/>
<path d="M2.4,43 A23.7,23.7 0 0 1 49.8,43 L49.8,89 Q49.8,101 38,101 L15.5,101 A17.7,17.7 0 0 1 2.4,71.5 Z" fill="#42dc88"/>
<path d="M7.6,47.8 H38.5 V67 H12.9 V77.6 H7.6 Z" fill="#2ab165"/>
<line x1="13.5" y1="50" x2="31" y2="66.5" stroke="#b8f3d4" stroke-width="0.9" opacity="0.8"/>
<path d="M7,31 L11.5,32.5 Q17,27 23.3,25.5 L23.8,21 Q14,22.5 7,31Z" fill="#b8f3d4"/>
<path d="M33.5,27.5 Q44.5,33 44.5,47 L44.5,103" fill="none" stroke="#b8f3d4" stroke-width="9.5" opacity="0.32"/>
<path d="M30.5,31.5 L35.5,22.5 Q49.5,29 49.5,44 L49.5,101 M39.5,103 L39.5,47 Q39.5,36 30.5,31.5" fill="none" stroke="#b8f3d4" stroke-width="1.3" opacity="0.95"/>
<path d="M8.5,91.5 Q22,101 40,97" fill="none" stroke="#b8f3d4" stroke-width="3" opacity="0.9"/>
</g>
<g transform="translate(291.00,0)">
<path d="M0,43 A26.1,26.1 0 0 1 52.2,43 L52.2,90 Q52.2,104.3 38,104.3 L15.5,104.3 A21,21 0 0 1 0,68.8 Z" fill="#1acf63"/>
<path d="M2.4,43 A23.7,23.7 0 0 1 49.8,43 L49.8,89 Q49.8,101 38,101 L15.5,101 A17.7,17.7 0 0 1 2.4,71.5 Z" fill="#42dc88"/>
<path d="M7.6,47.8 H38.5 V67 H12.9 V77.6 H7.6 Z" fill="#2ab165"/>
<line x1="13.5" y1="50" x2="31" y2="66.5" stroke="#b8f3d4" stroke-width="0.9" opacity="0.8"/>
<path d="M7,31 L11.5,32.5 Q17,27 23.3,25.5 L23.8,21 Q14,22.5 7,31Z" fill="#b8f3d4"/>
<path d="M33.5,27.5 Q44.5,33 44.5,47 L44.5,103" fill="none" stroke="#b8f3d4" stroke-width="9.5" opacity="0.32"/>
<path d="M30.5,31.5 L35.5,22.5 Q49.5,29 49.5,44 L49.5,101 M39.5,103 L39.5,47 Q39.5,36 30.5,31.5" fill="none" stroke="#b8f3d4" stroke-width="1.3" opacity="0.95"/>
<path d="M8.5,91.5 Q22,101 40,97" fill="none" stroke="#b8f3d4" stroke-width="3" opacity="0.9"/>
</g>
<g transform="translate(396.00,0)">
<path d="M0,43 A26.1,26.1 0 0 1 52.2,43 L52.2,90 Q52.2,104.3 38,104.3 L15.5,104.3 A21,21 0 0 1 0,68.8 Z" fill="#1acf63"/>
<path d="M2.4,43 A23.7,23.7 0 0 1 49.8,43 L49.8,89 Q49.8,101 38,101 L15.5,101 A17.7,17.7 0 0 1 2.4,71.5 Z" fill="#42dc88"/>
<path d="M7.6,47.8 H38.5 V67 H12.9 V77.6 H7.6 Z" fill="#2ab165"/>
<line x1="13.5" y1="50" x2="31" y2="66.5" stroke="#b8f3d4" stroke-width="0.9" opacity="0.8"/>
<path d="M7,31 L11.5,32.5 Q17,27 23.3,25.5 L23.8,21 Q14,22.5 7,31Z" fill="#b8f3d4"/>
<path d="M33.5,27.5 Q44.5,33 44.5,47 L44.5,103" fill="none" stroke="#b8f3d4" stroke-width="9.5" opacity="0.32"/>
<path d="M30.5,31.5 L35.5,22.5 Q49.5,29 49.5,44 L49.5,101 M39.5,103 L39.5,47 Q39.5,36 30.5,31.5" fill="none" stroke="#b8f3d4" stroke-width="1.3" opacity="0.95"/>
<path d="M8.5,91.5 Q22,101 40,97" fill="none" stroke="#b8f3d4" stroke-width="3" opacity="0.9"/>
</g>
<g transform="translate(343.50,0)">
<path d="M0,43 A26.1,26.1 0 0 1 52.2,43 L52.2,90 Q52.2,104.3 38,104.3 L15.5,104.3 A21,21 0 0 1 0,68.8 Z" fill="#1acf63"/>
<path d="M2.4,43 A23.7,23.7 0 0 1 49.8,43 L49.8,89 Q49.8,101 38,101 L15.5,101 A17.7,17.7 0 0 1 2.4,71.5 Z" fill="#42dc88"/>
<path d="M7.6,47.8 H38.5 V67 H12.9 V77.6 H7.6 Z" fill="#2ab165"/>
<line x1="13.5" y1="50" x2="31" y2="66.5" stroke="#b8f3d4" stroke-width="0.9" opacity="0.8"/>
<path d="M7,31 L11.5,32.5 Q17,27 23.3,25.5 L23.8,21 Q14,22.5 7,31Z" fill="#b8f3d4"/>
<path d="M33.5,27.5 Q44.5,33 44.5,47 L44.5,103" fill="none" stroke="#b8f3d4" stroke-width="9.5" opacity="0.32"/>
<path d="M30.5,31.5 L35.5,22.5 Q49.5,29 49.5,44 L49.5,101 M39.5,103 L39.5,47 Q39.5,36 30.5,31.5" fill="none" stroke="#b8f3d4" stroke-width="1.3" opacity="0.95"/>
<path d="M8.5,91.5 Q22,101 40,97" fill="none" stroke="#b8f3d4" stroke-width="3" opacity="0.9"/>
</g>
<polyline points="618.70,100.00 618.70,123.00" fill="none" stroke="#8c8c8c" stroke-width="10" stroke-linecap="butt" stroke-linejoin="round" />
<polyline points="618.70,118.00 618.70,123.00 588.80,187.50" fill="none" stroke="#8c8c8c" stroke-width="6.6" stroke-linecap="round" stroke-linejoin="round" />
<line x1="595.53" y1="172.98" x2="589.01" y2="187.05" stroke="#8ff08f" stroke-width="11.2" stroke-linecap="round" opacity="0.4"/>
<circle cx="588.80" cy="187.50" r="5.5" fill="#0d5c12"/>
<line x1="595.53" y1="172.98" x2="589.01" y2="187.05" stroke="#00e41c" stroke-width="8.2" stroke-linecap="round"/>
<polyline points="634.00,100.00 634.00,107.00 647.90,121.70" fill="none" stroke="#8c8c8c" stroke-width="10" stroke-linecap="butt" stroke-linejoin="round" />
<polyline points="634.00,106.00 647.90,121.70 562.55,239.50" fill="none" stroke="#8c8c8c" stroke-width="6.6" stroke-linecap="round" stroke-linejoin="round" />
<line x1="571.94" y1="226.54" x2="562.84" y2="239.10" stroke="#8ff08f" stroke-width="11.2" stroke-linecap="round" opacity="0.4"/>
<circle cx="562.55" cy="239.50" r="5.5" fill="#0d5c12"/>
<line x1="571.94" y1="226.54" x2="562.84" y2="239.10" stroke="#00e41c" stroke-width="8.2" stroke-linecap="round"/>
<g transform="translate(654.30,0) scale(-1,1)">
<path d="M0,43 A26.1,26.1 0 0 1 52.2,43 L52.2,90 Q52.2,104.3 38,104.3 L15.5,104.3 A21,21 0 0 1 0,68.8 Z" fill="#f1dc58"/>
<path d="M2.4,43 A23.7,23.7 0 0 1 49.8,43 L49.8,89 Q49.8,101 38,101 L15.5,101 A17.7,17.7 0 0 1 2.4,71.5 Z" fill="#f7ea84"/>
<path d="M7.6,47.8 H38.5 V67 H12.9 V77.6 H7.6 Z" fill="#cdb852"/>
<line x1="13.5" y1="50" x2="31" y2="66.5" stroke="#fdf6c8" stroke-width="0.9" opacity="0.8"/>
<path d="M7,31 L11.5,32.5 Q17,27 23.3,25.5 L23.8,21 Q14,22.5 7,31Z" fill="#fdf6c8"/>
<path d="M33.5,27.5 Q44.5,33 44.5,47 L44.5,103" fill="none" stroke="#fdf6c8" stroke-width="9.5" opacity="0.32"/>
<path d="M30.5,31.5 L35.5,22.5 Q49.5,29 49.5,44 L49.5,101 M39.5,103 L39.5,47 Q39.5,36 30.5,31.5" fill="none" stroke="#fdf6c8" stroke-width="1.3" opacity="0.95"/>
<path d="M8.5,91.5 Q22,101 40,97" fill="none" stroke="#fdf6c8" stroke-width="3" opacity="0.9"/>
</g>
<polyline points="486.20,150.00 483.80,187.50" fill="none" stroke="#8c8c8c" stroke-width="6.6" stroke-linecap="round" stroke-linejoin="round" />
<line x1="484.82" y1="171.53" x2="483.83" y2="187.00" stroke="#8ff08f" stroke-width="11.2" stroke-linecap="round" opacity="0.4"/>
<circle cx="483.80" cy="187.50" r="5.5" fill="#0d5c12"/>
<line x1="484.82" y1="171.53" x2="483.83" y2="187.00" stroke="#00e41c" stroke-width="8.2" stroke-linecap="round"/>
<polyline points="486.20,82.00 486.20,63.50 468.70,66.20 468.70,223.60" fill="none" stroke="#8c8c8c" stroke-width="6.6" stroke-linecap="round" stroke-linejoin="round" />
<polyline points="468.70,223.60 483.80,239.50" fill="none" stroke="#8c8c8c" stroke-width="6.6" stroke-linecap="round" stroke-linejoin="round" />
<line x1="472.78" y1="227.90" x2="483.46" y2="239.14" stroke="#8ff08f" stroke-width="11.2" stroke-linecap="round" opacity="0.4"/>
<circle cx="483.80" cy="239.50" r="5.5" fill="#0d5c12"/>
<line x1="472.78" y1="227.90" x2="483.46" y2="239.14" stroke="#00e41c" stroke-width="8.2" stroke-linecap="round"/>
<circle cx="468.7" cy="66.2" r="3.8" fill="#3a3a3a"/>
<circle cx="468.7" cy="223.6" r="3.8" fill="#3a3a3a"/>
<path transform="translate(500.1,80) rotate(90)" d="M4.5,0 H13.86 Q18.71,0 21.48,2.73 H47.82 Q50.59,0 55.44,0 H64.8 Q69.3,0 69.3,4.5 V22.8 Q69.3,27.3 64.8,27.3 H55.44 Q50.59,27.3 47.82,24.57 H21.48 Q18.71,27.3 13.86,27.3 H4.5 Q0,27.3 0,22.8 V4.5 Q0,0 4.5,0Z" fill="#dcb67c"/>
<rect x="474.98" y="86.80" width="22.93" height="4" fill="#2b2418"/>
<rect x="474.98" y="103.60" width="22.93" height="8" fill="#ff5a10"/>
<rect x="474.98" y="116.40" width="22.93" height="7" fill="#8c8c8c"/>
<rect x="474.98" y="130.00" width="22.93" height="8" fill="#1f63b8"/>
<rect x="489.86" y="82.00" width="8.74" height="65.3" rx="3" fill="#6b4a1a" opacity="0.28"/>
<path d="M504.5,107 Q504,122 508,130 Q510.1,134 510.1,142 L510.1,200" fill="none" stroke="#8c8c8c" stroke-width="7" stroke-linecap="round" stroke-linejoin="round"/>
<polyline points="510.10,190.00 510.05,239.50" fill="none" stroke="#8c8c8c" stroke-width="6.6" stroke-linecap="round" stroke-linejoin="round" />
<line x1="510.07" y1="223.50" x2="510.05" y2="239.00" stroke="#8ff08f" stroke-width="11.2" stroke-linecap="round" opacity="0.4"/>
<circle cx="510.05" cy="239.50" r="5.5" fill="#0d5c12"/>
<line x1="510.07" y1="223.50" x2="510.05" y2="239.00" stroke="#00e41c" stroke-width="8.2" stroke-linecap="round"/>
<path d="M543.5,107 Q544,122 539,130 Q536,134 536,142 L536,170" fill="none" stroke="#8c8c8c" stroke-width="7" stroke-linecap="round" stroke-linejoin="round"/>
<polyline points="536.00,160.00 536.30,187.50" fill="none" stroke="#8c8c8c" stroke-width="6.6" stroke-linecap="round" stroke-linejoin="round" />
<line x1="536.13" y1="171.50" x2="536.29" y2="187.00" stroke="#8ff08f" stroke-width="11.2" stroke-linecap="round" opacity="0.4"/>
<circle cx="536.30" cy="187.50" r="5.5" fill="#0d5c12"/>
<line x1="536.13" y1="171.50" x2="536.29" y2="187.00" stroke="#00e41c" stroke-width="8.2" stroke-linecap="round"/>
<g transform="translate(500,69) scale(1.0,1.0)"><path d="M10,-0.5 Q24,3 38,-0.5 Q42.8,-1 42.8,5 L42.6,24 Q43,31 48,36 Q50.5,40.6 46,40.6 L40.5,40.6 Q35,30.5 24,30.5 Q13,30.5 7.5,40.6 L2,40.6 Q-2.5,40.6 0,36 Q5,31 5.2,24 L5,5 Q5,-1 10,-0.5Z" fill="#1f5ea8"/><path d="M9.5,36 Q15,27 24,27 Q33,27 38.5,36 Q33,30.5 24,30.5 Q15,30.5 9.5,36Z" fill="#184e8e"/><path d="M39.5,12 Q41,20 40.5,28" stroke="#184e8e" stroke-width="1.6" fill="none"/><circle cx="10.7" cy="5.7" r="2.7" fill="none" stroke="#5b96d4" stroke-width="1.4"/><path d="M31,4.5 Q35,2.2 38.5,3" stroke="#5b96d4" stroke-width="2.2" fill="none" stroke-linecap="round"/><path d="M7.5,25 Q6,30 3.5,34" stroke="#5b96d4" stroke-width="2" fill="none" stroke-linecap="round" opacity="0.8"/></g>
<path d="M556,132 Q556,145 561,152 Q564.5,158 563,166 L555,190" fill="none" stroke="#8c8c8c" stroke-width="7" stroke-linecap="round" stroke-linejoin="round"/>
<polyline points="563.00,166.00 536.30,239.50" fill="none" stroke="#8c8c8c" stroke-width="6.6" stroke-linecap="round" stroke-linejoin="round" />
<line x1="541.76" y1="224.46" x2="536.47" y2="239.03" stroke="#8ff08f" stroke-width="11.2" stroke-linecap="round" opacity="0.4"/>
<circle cx="536.30" cy="239.50" r="5.5" fill="#0d5c12"/>
<line x1="541.76" y1="224.46" x2="536.47" y2="239.03" stroke="#00e41c" stroke-width="8.2" stroke-linecap="round"/>
<path d="M596,132 Q596,145 593,152 Q590.5,157 588,162" fill="none" stroke="#8c8c8c" stroke-width="7" stroke-linecap="round" stroke-linejoin="round"/>
<polyline points="592.00,156.00 562.55,187.50" fill="none" stroke="#8c8c8c" stroke-width="6.6" stroke-linecap="round" stroke-linejoin="round" />
<line x1="573.48" y1="175.81" x2="562.89" y2="187.13" stroke="#8ff08f" stroke-width="11.2" stroke-linecap="round" opacity="0.4"/>
<circle cx="562.55" cy="187.50" r="5.5" fill="#0d5c12"/>
<line x1="573.48" y1="175.81" x2="562.89" y2="187.13" stroke="#00e41c" stroke-width="8.2" stroke-linecap="round"/>
<g transform="translate(553.5,96.8) scale(0.945,0.93)"><path d="M10,-0.5 Q24,3 38,-0.5 Q42.8,-1 42.8,5 L42.6,24 Q43,31 48,36 Q50.5,40.6 46,40.6 L40.5,40.6 Q35,30.5 24,30.5 Q13,30.5 7.5,40.6 L2,40.6 Q-2.5,40.6 0,36 Q5,31 5.2,24 L5,5 Q5,-1 10,-0.5Z" fill="#1f5ea8"/><path d="M9.5,36 Q15,27 24,27 Q33,27 38.5,36 Q33,30.5 24,30.5 Q15,30.5 9.5,36Z" fill="#184e8e"/><path d="M39.5,12 Q41,20 40.5,28" stroke="#184e8e" stroke-width="1.6" fill="none"/><circle cx="10.7" cy="5.7" r="2.7" fill="none" stroke="#5b96d4" stroke-width="1.4"/><path d="M31,4.5 Q35,2.2 38.5,3" stroke="#5b96d4" stroke-width="2.2" fill="none" stroke-linecap="round"/><path d="M7.5,25 Q6,30 3.5,34" stroke="#5b96d4" stroke-width="2" fill="none" stroke-linecap="round" opacity="0.8"/></g>
<path d="M477,353 Q473.5,342 477.5,335 Q483.8,328 483.8,322" fill="none" stroke="#8c8c8c" stroke-width="7" stroke-linecap="round" stroke-linejoin="round"/>
<line x1="483.80" y1="329.25" x2="483.80" y2="318.75" stroke="#8ff08f" stroke-width="11.5" stroke-linecap="round" opacity="0.4"/>
<circle cx="483.80" cy="318.25" r="5.5" fill="#0d5c12"/>
<line x1="483.80" y1="329.25" x2="483.80" y2="318.75" stroke="#00e41c" stroke-width="8.5" stroke-linecap="round"/>
<path d="M517,353 Q520.5,342 516.5,335 Q510.1,328 510.1,322" fill="none" stroke="#8c8c8c" stroke-width="7" stroke-linecap="round" stroke-linejoin="round"/>
<line x1="510.09" y1="329.25" x2="510.05" y2="318.75" stroke="#8ff08f" stroke-width="11.5" stroke-linecap="round" opacity="0.4"/>
<circle cx="510.05" cy="318.25" r="5.5" fill="#0d5c12"/>
<line x1="510.09" y1="329.25" x2="510.05" y2="318.75" stroke="#00e41c" stroke-width="8.5" stroke-linecap="round"/>
<g transform="translate(472.7,350.8) scale(1.0,0.97) rotate(180 24 20)"><path d="M10,-0.5 Q24,3 38,-0.5 Q42.8,-1 42.8,5 L42.6,24 Q43,31 48,36 Q50.5,40.6 46,40.6 L40.5,40.6 Q35,30.5 24,30.5 Q13,30.5 7.5,40.6 L2,40.6 Q-2.5,40.6 0,36 Q5,31 5.2,24 L5,5 Q5,-1 10,-0.5Z" fill="#1f5ea8"/><path d="M9.5,36 Q15,27 24,27 Q33,27 38.5,36 Q33,30.5 24,30.5 Q15,30.5 9.5,36Z" fill="#184e8e"/><path d="M39.5,12 Q41,20 40.5,28" stroke="#184e8e" stroke-width="1.6" fill="none"/><circle cx="10.7" cy="5.7" r="2.7" fill="none" stroke="#5b96d4" stroke-width="1.4"/><path d="M31,4.5 Q35,2.2 38.5,3" stroke="#5b96d4" stroke-width="2.2" fill="none" stroke-linecap="round"/><path d="M7.5,25 Q6,30 3.5,34" stroke="#5b96d4" stroke-width="2" fill="none" stroke-linecap="round" opacity="0.8"/></g>
<polyline points="556.00,371.50 537.00,371.50 510.05,292.00" fill="none" stroke="#8c8c8c" stroke-width="6.6" stroke-linecap="round" stroke-linejoin="round" />
<line x1="515.19" y1="307.15" x2="510.21" y2="292.47" stroke="#8ff08f" stroke-width="11.2" stroke-linecap="round" opacity="0.4"/>
<circle cx="510.05" cy="292.00" r="5.5" fill="#0d5c12"/>
<line x1="515.19" y1="307.15" x2="510.21" y2="292.47" stroke="#00e41c" stroke-width="8.2" stroke-linecap="round"/>
<polyline points="622.00,371.50 641.00,371.50 536.30,318.25" fill="none" stroke="#8c8c8c" stroke-width="6.6" stroke-linecap="round" stroke-linejoin="round" />
<line x1="550.56" y1="325.50" x2="536.75" y2="318.48" stroke="#8ff08f" stroke-width="11.2" stroke-linecap="round" opacity="0.4"/>
<circle cx="536.30" cy="318.25" r="5.5" fill="#0d5c12"/>
<line x1="550.56" y1="325.50" x2="536.75" y2="318.48" stroke="#00e41c" stroke-width="8.2" stroke-linecap="round"/>
<path transform="translate(556,359.7)" d="M4.5,0 H13.20 Q17.82,0 20.46,2.36 H45.54 Q48.18,0 52.80,0 H61.5 Q66,0 66,4.5 V19.1 Q66,23.6 61.5,23.6 H52.80 Q48.18,23.6 45.54,21.24 H20.46 Q17.82,23.6 13.20,23.6 H4.5 Q0,23.6 0,19.1 V4.5 Q0,0 4.5,0Z" fill="#dcb67c"/>
<rect x="562.50" y="361.59" width="2.2" height="19.82" fill="#5a4a18"/>
<rect x="580.30" y="361.59" width="6.1" height="19.82" fill="#ff5a00"/>
<rect x="593.40" y="361.59" width="6.1" height="19.82" fill="#8a1fd0"/>
<rect x="607.00" y="361.59" width="6.3" height="19.82" fill="#d01010"/>
<rect x="558.00" y="361.20" width="62" height="7.55" rx="3" fill="#6b4a1a" opacity="0.28"/>
<polyline points="640.00,450.00 536.30,449.80" fill="none" stroke="#8c8c8c" stroke-width="6.6" stroke-linecap="round" stroke-linejoin="round" />
<line x1="552.30" y1="449.83" x2="536.80" y2="449.80" stroke="#8ff08f" stroke-width="11.2" stroke-linecap="round" opacity="0.4"/>
<circle cx="536.30" cy="449.80" r="5.5" fill="#0d5c12"/>
<line x1="552.30" y1="449.83" x2="536.80" y2="449.80" stroke="#00e41c" stroke-width="8.2" stroke-linecap="round"/>
<polyline points="701.50,450.00 720.00,450.00 746.30,344.50" fill="none" stroke="#8c8c8c" stroke-width="6.6" stroke-linecap="round" stroke-linejoin="round" />
<line x1="742.43" y1="360.02" x2="746.18" y2="344.99" stroke="#8ff08f" stroke-width="11.2" stroke-linecap="round" opacity="0.4"/>
<circle cx="746.30" cy="344.50" r="5.5" fill="#0d5c12"/>
<line x1="742.43" y1="360.02" x2="746.18" y2="344.99" stroke="#00e41c" stroke-width="8.2" stroke-linecap="round"/>
<path transform="translate(635.5,437.5)" d="M4.5,0 H13.20 Q17.82,0 20.46,2.50 H45.54 Q48.18,0 52.80,0 H61.5 Q66,0 66,4.5 V20.5 Q66,25 61.5,25 H52.80 Q48.18,25 45.54,22.50 H20.46 Q17.82,25 13.20,25 H4.5 Q0,25 0,20.5 V4.5 Q0,0 4.5,0Z" fill="#dcb67c"/>
<rect x="641.50" y="439.50" width="2.2" height="21.00" fill="#5a4a18"/>
<rect x="658.50" y="439.50" width="7" height="21.00" fill="#f5c800"/>
<rect x="672.00" y="439.50" width="7" height="21.00" fill="#050505"/>
<rect x="686.00" y="439.50" width="6" height="21.00" fill="#8b3a0a"/>
<rect x="637.50" y="439.00" width="62" height="8.00" rx="3" fill="#6b4a1a" opacity="0.28"/>
<polyline points="589.50,521.00 589.50,501.50 536.30,502.10" fill="none" stroke="#8c8c8c" stroke-width="6.6" stroke-linecap="round" stroke-linejoin="round" />
<line x1="552.30" y1="501.92" x2="536.80" y2="502.09" stroke="#8ff08f" stroke-width="11.2" stroke-linecap="round" opacity="0.4"/>
<circle cx="536.30" cy="502.10" r="5.5" fill="#0d5c12"/>
<line x1="552.30" y1="501.92" x2="536.80" y2="502.09" stroke="#00e41c" stroke-width="8.2" stroke-linecap="round"/>
<polyline points="589.50,587.00 589.50,608.00 536.30,580.60" fill="none" stroke="#8c8c8c" stroke-width="6.6" stroke-linecap="round" stroke-linejoin="round" />
<line x1="550.52" y1="587.93" x2="536.74" y2="580.83" stroke="#8ff08f" stroke-width="11.2" stroke-linecap="round" opacity="0.4"/>
<circle cx="536.30" cy="580.60" r="5.5" fill="#0d5c12"/>
<line x1="550.52" y1="587.93" x2="536.74" y2="580.83" stroke="#00e41c" stroke-width="8.2" stroke-linecap="round"/>
<path transform="translate(601.8000000000001,520.7) rotate(90)" d="M4.5,0 H13.52 Q18.25,0 20.96,2.46 H46.64 Q49.35,0 54.08,0 H63.099999999999994 Q67.6,0 67.6,4.5 V20.1 Q67.6,24.6 63.099999999999994,24.6 H54.08 Q49.35,24.6 46.64,22.14 H20.96 Q18.25,24.6 13.52,24.6 H4.5 Q0,24.6 0,20.1 V4.5 Q0,0 4.5,0Z" fill="#dcb67c"/>
<rect x="579.17" y="529.60" width="20.66" height="6.4" fill="#ff5a00"/>
<rect x="579.17" y="544.20" width="20.66" height="6.4" fill="#ff5a00"/>
<rect x="579.17" y="557.60" width="20.66" height="6.4" fill="#ff5a00"/>
<rect x="579.17" y="579.00" width="20.66" height="2.6" fill="#4a3a10"/>
<rect x="578.70" y="522.70" width="7.87" height="63.599999999999994" rx="3" fill="#6b4a1a" opacity="0.28"/>
<polyline points="746.30,292.00 829.20,205.60" fill="none" stroke="#920000" stroke-width="12.8" stroke-linecap="round" stroke-linejoin="round" />
<polyline points="746.30,292.00 829.20,205.60" fill="none" stroke="#d41a1a" stroke-width="7.6" stroke-linecap="round" stroke-linejoin="round" />
<circle cx="746.30" cy="292.00" r="6.40" fill="#5e2a0e"/>
<line x1="746.30" y1="292.00" x2="750.45" y2="287.67" stroke="#5e2a0e" stroke-width="12.8"/>
<circle cx="746.30" cy="292.00" r="3.80" fill="#a84c1a"/>
<line x1="746.30" y1="292.00" x2="750.45" y2="287.67" stroke="#a84c1a" stroke-width="7.6"/>
<circle cx="829.20" cy="205.60" r="6.40" fill="#5e2a0e"/>
<line x1="829.20" y1="205.60" x2="825.05" y2="209.93" stroke="#5e2a0e" stroke-width="12.8"/>
<circle cx="829.20" cy="205.60" r="3.80" fill="#a84c1a"/>
<line x1="829.20" y1="205.60" x2="825.05" y2="209.93" stroke="#a84c1a" stroke-width="7.6"/>
<circle cx="829.2" cy="205.6" r="6.6" fill="none" stroke="#3d7a2a" stroke-width="1.5" opacity="0.75"/>
<polyline points="510.05,265.75 746.30,265.75" fill="none" stroke="#1f5cb0" stroke-width="12" stroke-linecap="round" stroke-linejoin="round" />
<polyline points="510.05,265.75 746.30,265.75" fill="none" stroke="#3b8de0" stroke-width="7" stroke-linecap="round" stroke-linejoin="round" />
<circle cx="510.05" cy="265.75" r="6.00" fill="#17708a"/>
<line x1="510.05" y1="265.75" x2="514.55" y2="265.75" stroke="#17708a" stroke-width="12"/>
<circle cx="510.05" cy="265.75" r="3.50" fill="#33a2b2"/>
<line x1="510.05" y1="265.75" x2="514.55" y2="265.75" stroke="#33a2b2" stroke-width="7"/>
<circle cx="746.30" cy="265.75" r="6.00" fill="#17708a"/>
<line x1="746.30" y1="265.75" x2="741.80" y2="265.75" stroke="#17708a" stroke-width="12"/>
<circle cx="746.30" cy="265.75" r="3.50" fill="#33a2b2"/>
<line x1="746.30" y1="265.75" x2="741.80" y2="265.75" stroke="#33a2b2" stroke-width="7"/>
<polyline points="536.30,292.00 641.30,292.00" fill="none" stroke="#1f5cb0" stroke-width="12" stroke-linecap="round" stroke-linejoin="round" />
<polyline points="536.30,292.00 641.30,292.00" fill="none" stroke="#3b8de0" stroke-width="7" stroke-linecap="round" stroke-linejoin="round" />
<circle cx="536.30" cy="292.00" r="6.00" fill="#17708a"/>
<line x1="536.30" y1="292.00" x2="540.80" y2="292.00" stroke="#17708a" stroke-width="12"/>
<circle cx="536.30" cy="292.00" r="3.50" fill="#33a2b2"/>
<line x1="536.30" y1="292.00" x2="540.80" y2="292.00" stroke="#33a2b2" stroke-width="7"/>
<circle cx="641.30" cy="292.00" r="6.00" fill="#17708a"/>
<line x1="641.30" y1="292.00" x2="636.80" y2="292.00" stroke="#17708a" stroke-width="12"/>
<circle cx="641.30" cy="292.00" r="3.50" fill="#33a2b2"/>
<line x1="641.30" y1="292.00" x2="636.80" y2="292.00" stroke="#33a2b2" stroke-width="7"/>
<polyline points="273.80,476.00 457.55,476.00" fill="none" stroke="#1f5cb0" stroke-width="12" stroke-linecap="round" stroke-linejoin="round" />
<polyline points="273.80,476.00 457.55,476.00" fill="none" stroke="#3b8de0" stroke-width="7" stroke-linecap="round" stroke-linejoin="round" />
<circle cx="273.80" cy="476.00" r="6.00" fill="#17708a"/>
<line x1="273.80" y1="476.00" x2="278.30" y2="476.00" stroke="#17708a" stroke-width="12"/>
<circle cx="273.80" cy="476.00" r="3.50" fill="#33a2b2"/>
<line x1="273.80" y1="476.00" x2="278.30" y2="476.00" stroke="#33a2b2" stroke-width="7"/>
<circle cx="457.55" cy="476.00" r="6.00" fill="#17708a"/>
<line x1="457.55" y1="476.00" x2="453.05" y2="476.00" stroke="#17708a" stroke-width="12"/>
<circle cx="457.55" cy="476.00" r="3.50" fill="#33a2b2"/>
<line x1="457.55" y1="476.00" x2="453.05" y2="476.00" stroke="#33a2b2" stroke-width="7"/>
<polyline points="483.80,476.00 641.30,476.00" fill="none" stroke="#1f5cb0" stroke-width="12" stroke-linecap="round" stroke-linejoin="round" />
<polyline points="483.80,476.00 641.30,476.00" fill="none" stroke="#3b8de0" stroke-width="7" stroke-linecap="round" stroke-linejoin="round" />
<circle cx="483.80" cy="476.00" r="6.00" fill="#17708a"/>
<line x1="483.80" y1="476.00" x2="488.30" y2="476.00" stroke="#17708a" stroke-width="12"/>
<circle cx="483.80" cy="476.00" r="3.50" fill="#33a2b2"/>
<line x1="483.80" y1="476.00" x2="488.30" y2="476.00" stroke="#33a2b2" stroke-width="7"/>
<circle cx="641.30" cy="476.00" r="6.00" fill="#17708a"/>
<line x1="641.30" y1="476.00" x2="636.80" y2="476.00" stroke="#17708a" stroke-width="12"/>
<circle cx="641.30" cy="476.00" r="3.50" fill="#33a2b2"/>
<line x1="641.30" y1="476.00" x2="636.80" y2="476.00" stroke="#33a2b2" stroke-width="7"/>
<polyline points="562.55,528.30 562.55,580.60" fill="none" stroke="#1f5cb0" stroke-width="12" stroke-linecap="round" stroke-linejoin="round" />
<polyline points="562.55,528.30 562.55,580.60" fill="none" stroke="#3b8de0" stroke-width="7" stroke-linecap="round" stroke-linejoin="round" />
<circle cx="562.55" cy="528.30" r="6.00" fill="#17708a"/>
<line x1="562.55" y1="528.30" x2="562.55" y2="532.80" stroke="#17708a" stroke-width="12"/>
<circle cx="562.55" cy="528.30" r="3.50" fill="#33a2b2"/>
<line x1="562.55" y1="528.30" x2="562.55" y2="532.80" stroke="#33a2b2" stroke-width="7"/>
<circle cx="562.55" cy="580.60" r="6.00" fill="#17708a"/>
<line x1="562.55" y1="580.60" x2="562.55" y2="576.10" stroke="#17708a" stroke-width="12"/>
<circle cx="562.55" cy="580.60" r="3.50" fill="#33a2b2"/>
<line x1="562.55" y1="580.60" x2="562.55" y2="576.10" stroke="#33a2b2" stroke-width="7"/>
<polyline points="746.30,528.30 746.30,580.60" fill="none" stroke="#1f5cb0" stroke-width="12" stroke-linecap="round" stroke-linejoin="round" />
<polyline points="746.30,528.30 746.30,580.60" fill="none" stroke="#3b8de0" stroke-width="7" stroke-linecap="round" stroke-linejoin="round" />
<circle cx="746.30" cy="528.30" r="6.00" fill="#17708a"/>
<line x1="746.30" y1="528.30" x2="746.30" y2="532.80" stroke="#17708a" stroke-width="12"/>
<circle cx="746.30" cy="528.30" r="3.50" fill="#33a2b2"/>
<line x1="746.30" y1="528.30" x2="746.30" y2="532.80" stroke="#33a2b2" stroke-width="7"/>
<circle cx="746.30" cy="580.60" r="6.00" fill="#17708a"/>
<line x1="746.30" y1="580.60" x2="746.30" y2="576.10" stroke="#17708a" stroke-width="12"/>
<circle cx="746.30" cy="580.60" r="3.50" fill="#33a2b2"/>
<line x1="746.30" y1="580.60" x2="746.30" y2="576.10" stroke="#33a2b2" stroke-width="7"/>
<polyline points="746.30,187.50 798.60,213.50 798.60,371.50 746.30,423.40" fill="none" stroke="#1f5cb0" stroke-width="12" stroke-linecap="round" stroke-linejoin="round" />
<polyline points="746.30,187.50 798.60,213.50 798.60,371.50 746.30,423.40" fill="none" stroke="#3b8de0" stroke-width="7" stroke-linecap="round" stroke-linejoin="round" />
<circle cx="746.30" cy="187.50" r="6.00" fill="#17708a"/>
<line x1="746.30" y1="187.50" x2="750.33" y2="189.50" stroke="#17708a" stroke-width="12"/>
<circle cx="746.30" cy="187.50" r="3.50" fill="#33a2b2"/>
<line x1="746.30" y1="187.50" x2="750.33" y2="189.50" stroke="#33a2b2" stroke-width="7"/>
<circle cx="746.30" cy="423.40" r="6.00" fill="#17708a"/>
<line x1="746.30" y1="423.40" x2="749.49" y2="420.23" stroke="#17708a" stroke-width="12"/>
<circle cx="746.30" cy="423.40" r="3.50" fill="#33a2b2"/>
<line x1="746.30" y1="423.40" x2="749.49" y2="420.23" stroke="#33a2b2" stroke-width="7"/>
<circle cx="798.6" cy="213.5" r="6" fill="#2060c0"/>
<circle cx="798.6" cy="371.5" r="6" fill="#2060c0"/>
<polyline points="746.30,476.00 826.00,555.00" fill="none" stroke="#000000" stroke-width="11" stroke-linecap="round" stroke-linejoin="round" />
<polyline points="746.30,476.00 826.00,555.00" fill="none" stroke="#383838" stroke-width="6" stroke-linecap="round" stroke-linejoin="round" />
<circle cx="746.30" cy="476.00" r="5.50" fill="#0a2a0a"/>
<line x1="746.30" y1="476.00" x2="749.50" y2="479.17" stroke="#0a2a0a" stroke-width="11"/>
<circle cx="746.30" cy="476.00" r="3.00" fill="#2c5a2c"/>
<line x1="746.30" y1="476.00" x2="749.50" y2="479.17" stroke="#2c5a2c" stroke-width="6"/>
<circle cx="826.00" cy="555.00" r="5.50" fill="#0a2a0a"/>
<line x1="826.00" y1="555.00" x2="822.80" y2="551.83" stroke="#0a2a0a" stroke-width="11"/>
<circle cx="826.00" cy="555.00" r="3.00" fill="#2c5a2c"/>
<line x1="826.00" y1="555.00" x2="822.80" y2="551.83" stroke="#2c5a2c" stroke-width="6"/>
<circle cx="826" cy="555" r="5.6" fill="none" stroke="#2f7a2f" stroke-width="1.3" opacity="0.8"/>
</svg></body></html>
